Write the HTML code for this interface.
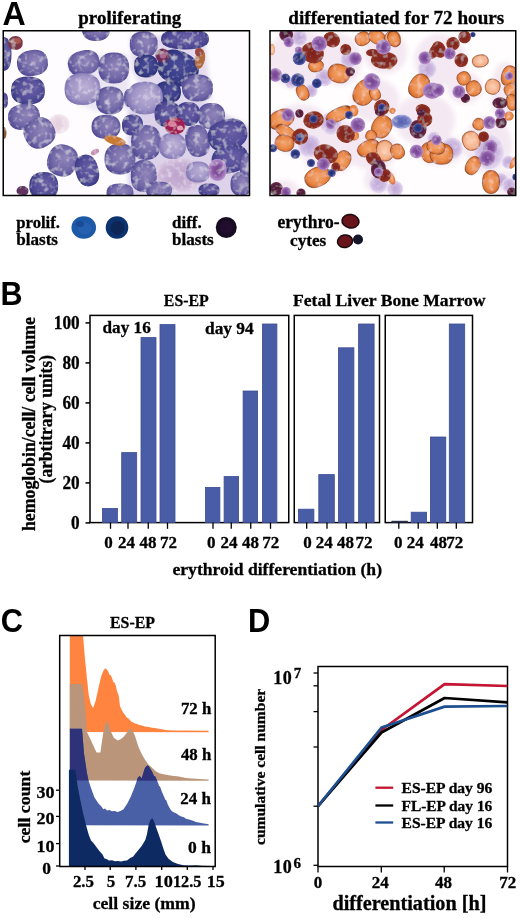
<!DOCTYPE html>
<html><head><meta charset="utf-8"><title>Figure</title>
<style>
html,body{margin:0;padding:0;background:#fff;}
body{width:520px;height:918px;overflow:hidden;font-family:"Liberation Serif",serif;}
svg{display:block;}
text{fill:#000;}
</style></head><body>
<svg width="520" height="918" viewBox="0 0 520 918">
<rect width="520" height="918" fill="#fff"/>
<defs><filter id="tb" x="0" y="0" width="520" height="918" filterUnits="userSpaceOnUse"><feGaussianBlur stdDeviation="0.35"/></filter></defs>

<g filter="url(#tb)">
<text transform="translate(2.6,25.1) scale(0.96,1)" font-size="33.5" style="font-family:'Liberation Sans',sans-serif;font-weight:bold">A</text>
<text transform="translate(0.6,305.2) scale(0.91,1)" font-size="33.5" style="font-family:'Liberation Sans',sans-serif;font-weight:bold">B</text>
<text transform="translate(0.8,632.0) scale(0.92,1)" font-size="33.5" style="font-family:'Liberation Sans',sans-serif;font-weight:bold">C</text>
<text transform="translate(247.9,632.4) scale(0.92,1)" font-size="33.5" style="font-family:'Liberation Sans',sans-serif;font-weight:bold">D</text>
<text x="78.3" y="24.2" font-size="19" text-anchor="start" textLength="103" lengthAdjust="spacingAndGlyphs" style="font-family:'Liberation Serif',serif;stroke:#000;stroke-width:0.3;font-weight:bold" >proliferating</text>
<text x="288.3" y="24.2" font-size="19" text-anchor="start" textLength="216" lengthAdjust="spacingAndGlyphs" style="font-family:'Liberation Serif',serif;stroke:#000;stroke-width:0.3;font-weight:bold" >differentiated for 72 hours</text>
</g>
<defs><filter id="bl" x="-5%" y="-5%" width="110%" height="110%"><feGaussianBlur stdDeviation="0.65"/></filter>
<filter id="tex" x="0" y="0" width="520" height="200" filterUnits="userSpaceOnUse"><feTurbulence type="fractalNoise" baseFrequency="0.18" numOctaves="2" seed="4" result="n"/><feColorMatrix in="n" type="matrix" values="0 0 0 0 1  0 0 0 0 1  0 0 0 0 1  1.3 0 0 0 -0.66" result="w"/><feComposite in="w" in2="SourceAlpha" operator="in" result="wm"/><feMerge result="m"><feMergeNode in="SourceGraphic"/><feMergeNode in="wm"/></feMerge><feGaussianBlur in="m" stdDeviation="0.6"/></filter>
<filter id="tex2" x="0" y="0" width="520" height="200" filterUnits="userSpaceOnUse"><feTurbulence type="fractalNoise" baseFrequency="0.18" numOctaves="2" seed="9" result="n"/><feColorMatrix in="n" type="matrix" values="0 0 0 0 1  0 0 0 0 1  0 0 0 0 1  0.9 0 0 0 -0.47" result="w"/><feComposite in="w" in2="SourceAlpha" operator="in" result="wm"/><feMerge result="m"><feMergeNode in="SourceGraphic"/><feMergeNode in="wm"/></feMerge><feGaussianBlur in="m" stdDeviation="0.6"/></filter>
<filter id="bl2" x="-20%" y="-20%" width="140%" height="140%"><feGaussianBlur stdDeviation="2.2"/></filter>
<radialGradient id="gP" cx="0.5" cy="0.5" r="0.62" fx="0.62" fy="0.4"><stop offset="0" stop-color="#9286ba"/><stop offset="0.6" stop-color="#7268a8"/><stop offset="0.88" stop-color="#504894"/><stop offset="1" stop-color="#34307c"/></radialGradient>
<radialGradient id="gPl" cx="0.5" cy="0.5" r="0.62" fx="0.6" fy="0.42"><stop offset="0" stop-color="#bcb0d6"/><stop offset="0.6" stop-color="#a094c6"/><stop offset="0.88" stop-color="#7a70b0"/><stop offset="1" stop-color="#565098"/></radialGradient>
<radialGradient id="gPd" cx="0.5" cy="0.5" r="0.62" fx="0.62" fy="0.4"><stop offset="0" stop-color="#6a60a6"/><stop offset="0.6" stop-color="#524c98"/><stop offset="0.88" stop-color="#3a3884"/><stop offset="1" stop-color="#282a70"/></radialGradient>
<radialGradient id="gN" cx="0.5" cy="0.5" r="0.62" fx="0.6" fy="0.4"><stop offset="0" stop-color="#4c4e9a"/><stop offset="0.6" stop-color="#383c88"/><stop offset="1" stop-color="#22266a"/></radialGradient>
<radialGradient id="gPk" cx="0.5" cy="0.5" r="0.55"><stop offset="0" stop-color="#bda2cc"/><stop offset="0.6" stop-color="#c8b0d4"/><stop offset="1" stop-color="#e2d4ea"/></radialGradient>
<radialGradient id="gPk2" cx="0.5" cy="0.5" r="0.55"><stop offset="0" stop-color="#e4cede"/><stop offset="0.6" stop-color="#ead8e6"/><stop offset="1" stop-color="#f8f0f6"/></radialGradient>
<radialGradient id="gO" cx="0.5" cy="0.5" r="0.56"><stop offset="0" stop-color="#f2a672"/><stop offset="0.6" stop-color="#ea8a48"/><stop offset="0.85" stop-color="#d87232"/><stop offset="1" stop-color="#8a3c18"/></radialGradient>
<radialGradient id="gOl" cx="0.5" cy="0.5" r="0.56"><stop offset="0" stop-color="#fad0b4"/><stop offset="0.7" stop-color="#f4b088"/><stop offset="1" stop-color="#c87444"/></radialGradient>
<radialGradient id="gD" cx="0.5" cy="0.5" r="0.56"><stop offset="0" stop-color="#7a221e"/><stop offset="0.6" stop-color="#8a2a20"/><stop offset="0.85" stop-color="#8e3420"/><stop offset="1" stop-color="#b05a2c"/></radialGradient>
<radialGradient id="gM" cx="0.5" cy="0.5" r="0.56"><stop offset="0" stop-color="#4a1634"/><stop offset="0.7" stop-color="#5c2040"/><stop offset="1" stop-color="#7a3a50"/></radialGradient>
<radialGradient id="gV" cx="0.5" cy="0.5" r="0.58"><stop offset="0" stop-color="#74408e"/><stop offset="0.5" stop-color="#8a5aa6"/><stop offset="0.8" stop-color="#b088c4"/><stop offset="1" stop-color="#e2d2ea"/></radialGradient>
<radialGradient id="gLv" cx="0.5" cy="0.5" r="0.56"><stop offset="0" stop-color="#bfa6d6"/><stop offset="0.55" stop-color="#cdb8e0"/><stop offset="0.8" stop-color="#e0d2ec"/><stop offset="1" stop-color="#f5f0f9"/></radialGradient>
<radialGradient id="gBv" cx="0.5" cy="0.5" r="0.56"><stop offset="0" stop-color="#5560b0"/><stop offset="0.6" stop-color="#6f78c0"/><stop offset="0.85" stop-color="#a0a4d8"/><stop offset="1" stop-color="#e0def2"/></radialGradient>
<radialGradient id="gB" cx="0.5" cy="0.5" r="0.56"><stop offset="0" stop-color="#222c6c"/><stop offset="0.6" stop-color="#303c88"/><stop offset="0.85" stop-color="#5c62a8"/><stop offset="1" stop-color="#a8a4d0"/></radialGradient>
<clipPath id="cA1"><rect x="3.25" y="30.75" width="246.25" height="164.75"/></clipPath>
<clipPath id="cA2"><rect x="270" y="30.75" width="245.75" height="164.75"/></clipPath></defs>
<g clip-path="url(#cA1)">
<rect x="3" y="30" width="247" height="166" fill="#fefcfe"/>
<g filter="url(#bl2)">
<path d="M128 110 L150 84 L200 100 L228 116 L250 126 L250 196 L128 196 Z" fill="#dcd2ea"/>
<path d="M130 36 L205 34 L208 70 L212 100 L150 104 L132 70 Z" fill="#e4dcee"/>
<path d="M70 56 L128 54 L130 108 L96 112 L70 100 Z" fill="#ece6f3"/>
</g>
<g filter="url(#tex)">
<ellipse cx="58.75" cy="124" rx="11" ry="10" fill="url(#gPk2)" />
<ellipse cx="180.5" cy="175" rx="27" ry="17" fill="url(#gPk)" />
<ellipse cx="100" cy="121" rx="7" ry="5" fill="url(#gPk2)" />
<path d="M11.5 54.0 L11.3 58.7 L10.8 62.4 L10.0 65.4 L8.9 67.8 L7.4 69.6 L5.7 70.6 L3.5 71.0 L1.3 70.6 L-0.4 69.6 L-1.9 67.8 L-3.0 65.4 L-3.8 62.4 L-4.3 58.7 L-4.5 54.0 L-4.3 49.3 L-3.8 45.6 L-3.0 42.6 L-1.9 40.2 L-0.4 38.4 L1.3 37.4 L3.5 37.0 L5.7 37.4 L7.4 38.4 L8.9 40.2 L10.0 42.6 L10.8 45.6 L11.3 49.3Z" fill="url(#gPd)" />
<path d="M47.8 60.3 L48.1 63.9 L47.6 66.8 L46.4 69.4 L44.5 71.6 L42.1 73.4 L39.0 74.8 L34.8 75.8 L30.5 76.3 L27.1 76.0 L24.1 75.2 L21.6 73.7 L19.6 71.8 L18.2 69.2 L17.2 65.7 L16.9 62.1 L17.4 59.2 L18.6 56.6 L20.5 54.4 L22.9 52.6 L26.0 51.2 L30.2 50.2 L34.5 49.7 L37.9 50.0 L40.9 50.8 L43.4 52.3 L45.4 54.2 L46.8 56.8Z" fill="url(#gP)" />
<path d="M45.0 90.5 L44.6 94.4 L43.6 97.4 L41.8 99.9 L39.4 101.9 L36.4 103.3 L32.7 104.2 L28.0 104.5 L23.3 104.2 L19.6 103.3 L16.6 101.9 L14.2 99.9 L12.4 97.4 L11.4 94.4 L11.0 90.5 L11.4 86.6 L12.4 83.6 L14.2 81.1 L16.6 79.1 L19.6 77.7 L23.3 76.8 L28.0 76.5 L32.7 76.8 L36.4 77.7 L39.4 79.1 L41.8 81.1 L43.6 83.6 L44.6 86.6Z" fill="url(#gPd)" />
<path d="M8.0 100.5 L7.9 102.7 L7.6 104.4 L7.1 105.9 L6.5 107.0 L5.7 107.8 L4.8 108.3 L3.5 108.5 L2.2 108.3 L1.3 107.8 L0.5 107.0 L-0.1 105.9 L-0.6 104.4 L-0.9 102.7 L-1.0 100.5 L-0.9 98.3 L-0.6 96.6 L-0.1 95.1 L0.5 94.0 L1.3 93.2 L2.2 92.7 L3.5 92.5 L4.8 92.7 L5.7 93.2 L6.5 94.0 L7.1 95.1 L7.6 96.6 L7.9 98.3Z" fill="url(#gPd)" />
<path d="M39.8 114.0 L40.0 117.6 L39.5 120.5 L38.3 123.1 L36.4 125.3 L33.8 127.1 L30.6 128.5 L26.3 129.6 L21.8 130.1 L18.3 129.8 L15.3 129.0 L12.7 127.6 L10.7 125.6 L9.2 123.0 L8.2 119.5 L8.0 115.9 L8.5 113.0 L9.7 110.4 L11.6 108.2 L14.2 106.4 L17.4 105.0 L21.7 103.9 L26.2 103.4 L29.7 103.7 L32.7 104.5 L35.3 105.9 L37.3 107.9 L38.8 110.5Z" fill="url(#gP)" />
<path d="M52.9 125.2 L54.7 129.0 L55.5 132.3 L55.4 135.4 L54.6 138.4 L53.0 141.1 L50.6 143.6 L47.0 146.0 L43.1 147.9 L39.8 148.7 L36.6 148.7 L33.6 148.0 L30.9 146.5 L28.5 144.2 L26.1 140.8 L24.3 137.0 L23.5 133.7 L23.6 130.6 L24.4 127.6 L26.0 124.9 L28.4 122.4 L32.0 120.0 L35.9 118.1 L39.2 117.3 L42.4 117.3 L45.4 118.0 L48.1 119.5 L50.5 121.8Z" fill="url(#gP)" />
<path d="M99.2 58.9 L99.8 62.3 L99.5 65.1 L98.4 67.7 L96.7 70.0 L94.3 72.0 L91.2 73.7 L87.0 75.1 L82.6 76.0 L79.1 76.1 L76.0 75.6 L73.4 74.4 L71.2 72.7 L69.5 70.4 L68.3 67.1 L67.7 63.7 L68.0 60.9 L69.1 58.3 L70.8 56.0 L73.2 54.0 L76.3 52.3 L80.5 50.9 L84.9 50.0 L88.4 49.9 L91.5 50.4 L94.1 51.6 L96.3 53.3 L98.0 55.6Z" fill="url(#gP)" />
<path d="M129.2 68.0 L128.9 72.3 L127.9 75.6 L126.3 78.4 L124.1 80.6 L121.4 82.2 L118.1 83.2 L113.8 83.5 L109.4 83.2 L106.1 82.2 L103.4 80.6 L101.2 78.4 L99.6 75.6 L98.6 72.3 L98.2 68.0 L98.6 63.7 L99.6 60.4 L101.2 57.6 L103.4 55.4 L106.1 53.8 L109.4 52.8 L113.7 52.5 L118.1 52.8 L121.4 53.8 L124.1 55.4 L126.3 57.6 L127.9 60.4 L128.9 63.7Z" fill="url(#gP)" />
<path d="M100.5 89.0 L100.1 93.5 L99.0 96.9 L97.1 99.7 L94.5 102.0 L91.3 103.6 L87.5 104.7 L82.5 105.0 L77.5 104.7 L73.7 103.6 L70.5 102.0 L67.9 99.7 L66.0 96.9 L64.9 93.5 L64.5 89.0 L64.9 84.5 L66.0 81.1 L67.9 78.3 L70.5 76.0 L73.7 74.4 L77.5 73.3 L82.5 73.0 L87.5 73.3 L91.3 74.4 L94.5 76.0 L97.1 78.3 L99.0 81.1 L100.1 84.5Z" fill="url(#gPl)" />
<path d="M124.0 100.5 L123.7 104.4 L122.8 107.4 L121.4 109.9 L119.4 111.9 L116.9 113.3 L113.9 114.2 L110.0 114.5 L106.1 114.2 L103.1 113.3 L100.6 111.9 L98.6 109.9 L97.2 107.4 L96.3 104.4 L96.0 100.5 L96.3 96.6 L97.2 93.6 L98.6 91.1 L100.6 89.1 L103.1 87.7 L106.1 86.8 L110.0 86.5 L113.9 86.8 L116.9 87.7 L119.4 89.1 L121.4 91.1 L122.8 93.6 L123.7 96.6Z" fill="url(#gP)" />
<path d="M110.0 29.0 L109.7 32.3 L108.8 34.9 L107.4 37.0 L105.4 38.7 L102.9 40.0 L99.9 40.7 L96.0 41.0 L92.1 40.7 L89.1 40.0 L86.6 38.7 L84.6 37.0 L83.2 34.9 L82.3 32.3 L82.0 29.0 L82.3 25.7 L83.2 23.1 L84.6 21.0 L86.6 19.3 L89.1 18.0 L92.1 17.3 L96.0 17.0 L99.9 17.3 L102.9 18.0 L105.4 19.3 L107.4 21.0 L108.8 23.1 L109.7 25.7Z" fill="url(#gP)" />
<path d="M76.6 165.6 L74.8 169.7 L72.7 172.6 L70.3 174.7 L67.5 176.1 L64.4 176.8 L61.1 176.6 L57.0 175.5 L53.2 173.8 L50.6 171.7 L48.6 169.3 L47.4 166.4 L46.9 163.2 L47.2 159.7 L48.4 155.4 L50.2 151.3 L52.3 148.4 L54.7 146.3 L57.5 144.9 L60.6 144.2 L63.9 144.4 L68.0 145.5 L71.8 147.2 L74.4 149.3 L76.4 151.7 L77.6 154.6 L78.1 157.8 L77.8 161.3Z" fill="url(#gP)" />
<path d="M98.1 167.5 L99.0 171.9 L99.2 175.4 L98.8 178.4 L97.8 181.0 L96.2 183.2 L94.1 184.8 L91.1 186.0 L88.0 186.5 L85.3 186.1 L82.9 185.0 L80.8 183.3 L78.9 180.8 L77.3 177.7 L75.9 173.5 L75.0 169.1 L74.8 165.6 L75.2 162.6 L76.2 160.0 L77.8 157.8 L79.9 156.2 L82.9 155.0 L86.0 154.5 L88.7 154.9 L91.1 156.0 L93.2 157.7 L95.1 160.2 L96.7 163.3Z" fill="url(#gPd)" />
<path d="M58.2 186.0 L57.9 189.9 L57.0 192.9 L55.5 195.4 L53.4 197.4 L50.9 198.8 L47.8 199.7 L43.8 200.0 L39.7 199.7 L36.6 198.8 L34.1 197.4 L32.0 195.4 L30.5 192.9 L29.6 189.9 L29.2 186.0 L29.6 182.1 L30.5 179.1 L32.0 176.6 L34.1 174.6 L36.6 173.2 L39.7 172.3 L43.7 172.0 L47.8 172.3 L50.9 173.2 L53.4 174.6 L55.5 176.6 L57.0 179.1 L57.9 182.1Z" fill="url(#gPd)" />
<path d="M120.5 126.8 L120.2 130.1 L119.3 132.6 L117.8 134.8 L115.7 136.5 L113.1 137.7 L110.0 138.5 L106.0 138.8 L102.0 138.5 L98.9 137.7 L96.3 136.5 L94.2 134.8 L92.7 132.6 L91.8 130.1 L91.5 126.8 L91.8 123.4 L92.7 120.9 L94.2 118.7 L96.3 117.0 L98.9 115.8 L102.0 115.0 L106.0 114.8 L110.0 115.0 L113.1 115.8 L115.7 117.0 L117.8 118.7 L119.3 120.9 L120.2 123.4Z" fill="url(#gP)" />
<path d="M135.5 159.0 L135.2 163.3 L134.2 166.6 L132.6 169.4 L130.4 171.6 L127.6 173.2 L124.3 174.2 L120.0 174.5 L115.7 174.2 L112.4 173.2 L109.6 171.6 L107.4 169.4 L105.8 166.6 L104.8 163.3 L104.5 159.0 L104.8 154.7 L105.8 151.4 L107.4 148.6 L109.6 146.4 L112.4 144.8 L115.7 143.8 L120.0 143.5 L124.3 143.8 L127.6 144.8 L130.4 146.4 L132.6 148.6 L134.2 151.4 L135.2 154.7Z" fill="url(#gP)" />
<path d="M134.0 98.0 L133.9 100.5 L133.6 102.4 L133.1 104.0 L132.3 105.3 L131.5 106.2 L130.4 106.8 L129.0 107.0 L127.6 106.8 L126.5 106.2 L125.7 105.3 L124.9 104.0 L124.4 102.4 L124.1 100.5 L124.0 98.0 L124.1 95.5 L124.4 93.6 L124.9 92.0 L125.7 90.7 L126.5 89.8 L127.6 89.2 L129.0 89.0 L130.4 89.2 L131.5 89.8 L132.3 90.7 L133.1 92.0 L133.6 93.6 L133.9 95.5Z" fill="url(#gP)" />
<path d="M133.5 193.0 L133.2 195.6 L132.4 197.7 L130.9 199.4 L129.0 200.7 L126.6 201.7 L123.8 202.3 L120.0 202.5 L116.2 202.3 L113.4 201.7 L111.0 200.7 L109.1 199.4 L107.6 197.7 L106.8 195.6 L106.5 193.0 L106.8 190.4 L107.6 188.3 L109.1 186.6 L111.0 185.3 L113.4 184.3 L116.2 183.7 L120.0 183.5 L123.8 183.7 L126.6 184.3 L129.0 185.3 L130.9 186.6 L132.4 188.3 L133.2 190.4Z" fill="url(#gP)" />
<path d="M157.8 44.2 L157.5 47.9 L156.6 50.6 L155.1 52.9 L153.1 54.8 L150.6 56.1 L147.6 57.0 L143.8 57.2 L139.9 57.0 L136.9 56.1 L134.4 54.8 L132.4 52.9 L130.9 50.6 L130.0 47.9 L129.8 44.3 L130.0 40.6 L130.9 37.9 L132.4 35.6 L134.4 33.7 L136.9 32.4 L139.9 31.5 L143.7 31.2 L147.6 31.5 L150.6 32.4 L153.1 33.7 L155.1 35.6 L156.6 37.9 L157.5 40.6Z" fill="url(#gP)" />
<path d="M209.0 39.0 L208.5 41.9 L207.0 44.2 L204.5 46.0 L201.1 47.5 L196.8 48.6 L191.7 49.3 L185.0 49.5 L178.3 49.3 L173.2 48.6 L168.9 47.5 L165.5 46.0 L163.0 44.2 L161.5 41.9 L161.0 39.0 L161.5 36.1 L163.0 33.8 L165.5 32.0 L168.9 30.5 L173.2 29.4 L178.3 28.7 L185.0 28.5 L191.7 28.7 L196.8 29.4 L201.1 30.5 L204.5 32.0 L207.0 33.8 L208.5 36.1Z" fill="url(#gPd)" />
<path d="M158.0 66.0 L157.7 69.2 L157.0 71.7 L155.7 73.7 L154.0 75.3 L151.9 76.5 L149.3 77.3 L146.0 77.5 L142.7 77.3 L140.1 76.5 L138.0 75.3 L136.3 73.7 L135.0 71.7 L134.3 69.2 L134.0 66.0 L134.3 62.8 L135.0 60.3 L136.3 58.3 L138.0 56.7 L140.1 55.5 L142.7 54.7 L146.0 54.5 L149.3 54.7 L151.9 55.5 L154.0 56.7 L155.7 58.3 L157.0 60.3 L157.7 62.8Z" fill="url(#gN)" />
<path d="M197.0 76.9 L194.6 81.0 L191.9 83.7 L188.6 85.5 L184.9 86.4 L180.8 86.5 L176.3 85.5 L170.8 83.4 L165.7 80.6 L162.1 77.7 L159.4 74.6 L157.8 71.1 L157.1 67.4 L157.4 63.6 L159.0 59.1 L161.4 55.0 L164.1 52.3 L167.4 50.5 L171.1 49.6 L175.2 49.5 L179.7 50.5 L185.2 52.6 L190.3 55.4 L193.9 58.3 L196.6 61.4 L198.2 64.9 L198.9 68.6 L198.6 72.4Z" fill="url(#gN)" />
<path d="M181.0 92.0 L180.7 95.1 L179.9 97.4 L178.5 99.4 L176.7 100.9 L174.4 102.1 L171.6 102.8 L168.0 103.0 L164.4 102.8 L161.6 102.1 L159.3 100.9 L157.5 99.4 L156.1 97.4 L155.3 95.1 L155.0 92.0 L155.3 88.9 L156.1 86.6 L157.5 84.6 L159.3 83.1 L161.6 81.9 L164.4 81.2 L168.0 81.0 L171.6 81.2 L174.4 81.9 L176.7 83.1 L178.5 84.6 L179.9 86.6 L180.7 88.9Z" fill="url(#gN)" />
<path d="M213.0 88.0 L212.7 91.8 L211.7 94.6 L210.1 97.0 L207.9 98.9 L205.1 100.4 L201.8 101.2 L197.5 101.5 L193.2 101.2 L189.9 100.4 L187.1 98.9 L184.9 97.0 L183.3 94.6 L182.3 91.8 L182.0 88.0 L182.3 84.2 L183.3 81.4 L184.9 79.0 L187.1 77.1 L189.9 75.6 L193.2 74.8 L197.5 74.5 L201.8 74.8 L205.1 75.6 L207.9 77.1 L210.1 79.0 L211.7 81.4 L212.7 84.2Z" fill="url(#gP)" />
<path d="M163.0 98.0 L162.6 102.6 L161.5 106.1 L159.6 109.0 L157.0 111.4 L153.8 113.1 L150.0 114.1 L145.0 114.5 L140.0 114.1 L136.2 113.1 L133.0 111.4 L130.4 109.0 L128.5 106.1 L127.4 102.6 L127.0 98.0 L127.4 93.4 L128.5 89.9 L130.4 87.0 L133.0 84.6 L136.2 82.9 L140.0 81.9 L145.0 81.5 L150.0 81.9 L153.8 82.9 L157.0 84.6 L159.6 87.0 L161.5 89.9 L162.6 93.4Z" fill="url(#gPl)" />
<path d="M180.5 114.0 L180.2 117.6 L179.4 120.4 L178.0 122.7 L176.2 124.5 L173.9 125.9 L171.1 126.7 L167.5 127.0 L163.9 126.7 L161.1 125.9 L158.8 124.5 L157.0 122.7 L155.6 120.4 L154.8 117.6 L154.5 114.0 L154.8 110.4 L155.6 107.6 L157.0 105.3 L158.8 103.5 L161.1 102.1 L163.9 101.3 L167.5 101.0 L171.1 101.3 L173.9 102.1 L176.2 103.5 L178.0 105.3 L179.4 107.6 L180.2 110.4Z" fill="url(#gPd)" />
<path d="M200.0 114.0 L199.7 117.3 L199.0 119.9 L197.7 122.0 L196.0 123.7 L193.9 125.0 L191.3 125.7 L188.0 126.0 L184.7 125.7 L182.1 125.0 L180.0 123.7 L178.3 122.0 L177.0 119.9 L176.3 117.3 L176.0 114.0 L176.3 110.7 L177.0 108.1 L178.3 106.0 L180.0 104.3 L182.1 103.0 L184.7 102.3 L188.0 102.0 L191.3 102.3 L193.9 103.0 L196.0 104.3 L197.7 106.0 L199.0 108.1 L199.7 110.7Z" fill="url(#gPd)" />
<path d="M225.0 116.0 L224.7 119.6 L223.9 122.4 L222.4 124.7 L220.5 126.5 L218.1 127.9 L215.3 128.7 L211.5 129.0 L207.7 128.7 L204.9 127.9 L202.5 126.5 L200.6 124.7 L199.1 122.4 L198.3 119.6 L198.0 116.0 L198.3 112.4 L199.1 109.6 L200.6 107.3 L202.5 105.5 L204.9 104.1 L207.7 103.3 L211.5 103.0 L215.3 103.3 L218.1 104.1 L220.5 105.5 L222.4 107.3 L223.9 109.6 L224.7 112.4Z" fill="url(#gP)" />
<path d="M143.0 125.0 L142.8 127.9 L142.1 130.2 L141.0 132.0 L139.5 133.5 L137.7 134.6 L135.4 135.3 L132.5 135.5 L129.6 135.3 L127.3 134.6 L125.5 133.5 L124.0 132.0 L122.9 130.2 L122.2 127.9 L122.0 125.0 L122.2 122.1 L122.9 119.8 L124.0 118.0 L125.5 116.5 L127.3 115.4 L129.6 114.7 L132.5 114.5 L135.4 114.7 L137.7 115.4 L139.5 116.5 L141.0 118.0 L142.1 119.8 L142.8 122.1Z" fill="url(#gPd)" />
<path d="M161.0 142.5 L160.7 147.4 L159.7 151.1 L158.2 154.2 L156.0 156.7 L153.4 158.5 L150.2 159.6 L146.0 160.0 L141.8 159.6 L138.6 158.5 L136.0 156.7 L133.8 154.2 L132.3 151.1 L131.3 147.4 L131.0 142.5 L131.3 137.6 L132.3 133.9 L133.8 130.8 L136.0 128.3 L138.6 126.5 L141.8 125.4 L146.0 125.0 L150.2 125.4 L153.4 126.5 L156.0 128.3 L158.2 130.8 L159.7 133.9 L160.7 137.6Z" fill="url(#gP)" />
<path d="M186.0 146.0 L185.7 149.6 L184.9 152.4 L183.4 154.7 L181.5 156.5 L179.1 157.9 L176.3 158.7 L172.5 159.0 L168.7 158.7 L165.9 157.9 L163.5 156.5 L161.6 154.7 L160.1 152.4 L159.3 149.6 L159.0 146.0 L159.3 142.4 L160.1 139.6 L161.6 137.3 L163.5 135.5 L165.9 134.1 L168.7 133.3 L172.5 133.0 L176.3 133.3 L179.1 134.1 L181.5 135.5 L183.4 137.3 L184.9 139.6 L185.7 142.4Z" fill="url(#gPl)" />
<path d="M209.3 138.9 L209.8 143.3 L209.7 146.8 L208.9 149.9 L207.7 152.4 L205.8 154.4 L203.5 155.8 L200.3 156.8 L196.9 157.0 L194.2 156.4 L191.8 155.2 L189.8 153.2 L188.1 150.6 L186.7 147.4 L185.7 143.1 L185.2 138.7 L185.3 135.2 L186.1 132.1 L187.3 129.6 L189.2 127.6 L191.5 126.2 L194.7 125.2 L198.1 125.0 L200.8 125.6 L203.2 126.8 L205.2 128.8 L206.9 131.4 L208.3 134.6Z" fill="url(#gP)" />
<path d="M246.5 128.8 L247.4 133.1 L247.3 136.6 L246.1 139.8 L244.1 142.8 L241.2 145.5 L237.5 147.7 L232.3 149.7 L226.9 151.1 L222.5 151.5 L218.7 151.1 L215.3 149.9 L212.4 147.9 L210.2 145.2 L208.5 141.2 L207.6 136.9 L207.7 133.4 L208.9 130.2 L210.9 127.2 L213.8 124.5 L217.5 122.3 L222.7 120.3 L228.1 118.9 L232.5 118.5 L236.3 118.9 L239.7 120.1 L242.6 122.1 L244.8 124.8Z" fill="url(#gPd)" />
<path d="M247.9 154.2 L248.5 158.1 L248.1 161.3 L246.9 164.2 L244.9 166.8 L242.1 169.0 L238.5 170.9 L233.6 172.5 L228.6 173.6 L224.5 173.7 L221.0 173.2 L217.9 171.9 L215.4 170.0 L213.5 167.4 L212.1 163.8 L211.5 159.9 L211.9 156.7 L213.1 153.8 L215.1 151.2 L217.9 149.0 L221.5 147.1 L226.4 145.5 L231.4 144.4 L235.5 144.3 L239.0 144.8 L242.1 146.1 L244.6 148.0 L246.5 150.6Z" fill="url(#gPd)" />
<path d="M252.5 166.0 L252.4 169.6 L251.9 172.4 L251.3 174.7 L250.3 176.5 L249.2 177.9 L247.8 178.7 L246.0 179.0 L244.2 178.7 L242.8 177.9 L241.7 176.5 L240.7 174.7 L240.1 172.4 L239.6 169.6 L239.5 166.0 L239.6 162.4 L240.1 159.6 L240.7 157.3 L241.7 155.5 L242.8 154.1 L244.2 153.3 L246.0 153.0 L247.8 153.3 L249.2 154.1 L250.3 155.5 L251.3 157.3 L251.9 159.6 L252.4 162.4Z" fill="url(#gP)" />
<path d="M251.5 184.0 L251.3 187.3 L250.6 189.9 L249.5 192.0 L248.0 193.7 L246.2 195.0 L243.9 195.7 L241.0 196.0 L238.1 195.7 L235.8 195.0 L234.0 193.7 L232.5 192.0 L231.4 189.9 L230.7 187.3 L230.5 184.0 L230.7 180.7 L231.4 178.1 L232.5 176.0 L234.0 174.3 L235.8 173.0 L238.1 172.3 L241.0 172.0 L243.9 172.3 L246.2 173.0 L248.0 174.3 L249.5 176.0 L250.6 178.1 L251.3 180.7Z" fill="url(#gP)" />
<path d="M156.8 176.0 L156.5 180.5 L155.6 183.9 L154.3 186.7 L152.4 189.0 L150.1 190.6 L147.4 191.7 L143.8 192.0 L140.1 191.7 L137.4 190.6 L135.1 189.0 L133.2 186.7 L131.9 183.9 L131.0 180.5 L130.8 176.0 L131.0 171.5 L131.9 168.1 L133.2 165.3 L135.1 163.0 L137.4 161.4 L140.1 160.3 L143.7 160.0 L147.4 160.3 L150.1 161.4 L152.4 163.0 L154.3 165.3 L155.6 168.1 L156.5 171.5Z" fill="url(#gP)" />
<path d="M210.0 172.0 L209.7 174.9 L209.0 177.2 L207.7 179.0 L206.0 180.5 L203.9 181.6 L201.3 182.3 L198.0 182.5 L194.7 182.3 L192.1 181.6 L190.0 180.5 L188.3 179.0 L187.0 177.2 L186.3 174.9 L186.0 172.0 L186.3 169.1 L187.0 166.8 L188.3 165.0 L190.0 163.5 L192.1 162.4 L194.7 161.7 L198.0 161.5 L201.3 161.7 L203.9 162.4 L206.0 163.5 L207.7 165.0 L209.0 166.8 L209.7 169.1Z" fill="url(#gPl)" />
<path d="M172.0 190.0 L171.7 192.4 L170.9 194.2 L169.5 195.7 L167.7 196.9 L165.4 197.8 L162.6 198.3 L159.0 198.5 L155.4 198.3 L152.6 197.8 L150.3 196.9 L148.5 195.7 L147.1 194.2 L146.3 192.4 L146.0 190.0 L146.3 187.6 L147.1 185.8 L148.5 184.3 L150.3 183.1 L152.6 182.2 L155.4 181.7 L159.0 181.5 L162.6 181.7 L165.4 182.2 L167.7 183.1 L169.5 184.3 L170.9 185.8 L171.7 187.6Z" fill="url(#gP)" />
<path d="M219.5 190.0 L219.3 191.8 L218.6 193.2 L217.5 194.3 L216.0 195.3 L214.2 195.9 L211.9 196.4 L209.0 196.5 L206.1 196.4 L203.8 195.9 L202.0 195.3 L200.5 194.3 L199.4 193.2 L198.7 191.8 L198.5 190.0 L198.7 188.2 L199.4 186.8 L200.5 185.7 L202.0 184.7 L203.8 184.1 L206.1 183.6 L209.0 183.5 L211.9 183.6 L214.2 184.1 L216.0 184.7 L217.5 185.7 L218.6 186.8 L219.3 188.2Z" fill="url(#gPd)" />
<path d="M226.5 170.0 L226.3 173.1 L225.7 175.4 L224.8 177.4 L223.5 178.9 L221.9 180.1 L220.0 180.8 L217.5 181.0 L215.0 180.8 L213.1 180.1 L211.5 178.9 L210.2 177.4 L209.3 175.4 L208.7 173.1 L208.5 170.0 L208.7 166.9 L209.3 164.6 L210.2 162.6 L211.5 161.1 L213.1 159.9 L215.0 159.2 L217.5 159.0 L220.0 159.2 L221.9 159.9 L223.5 161.1 L224.8 162.6 L225.7 164.6 L226.3 166.9Z" fill="url(#gV)" />
<ellipse cx="15.5" cy="43" rx="7.5" ry="7" fill="#7c3446" />
<ellipse cx="17" cy="41" rx="4" ry="3" fill="#a8584e" />
<ellipse cx="162.5" cy="55.5" rx="7" ry="7" fill="#6e2a58" />
<ellipse cx="163" cy="55" rx="3.5" ry="3.5" fill="#a86a90" />
<ellipse cx="22.5" cy="191" rx="6" ry="5" fill="#5e3060" />
<ellipse cx="175" cy="126" rx="10.5" ry="8.5" fill="#a01e52" />
<ellipse cx="172" cy="124" rx="4" ry="3" fill="#d880a0" />
<ellipse cx="180" cy="128" rx="3" ry="2.5" fill="#e0a0b8" />
<ellipse cx="200" cy="59" rx="5" ry="10" fill="#b06a3a" transform="rotate(10 200 59)" />
<ellipse cx="199" cy="52" rx="4" ry="4" fill="#9a4a40" />
<ellipse cx="115" cy="140.5" rx="11" ry="4.5" fill="#c87a30" transform="rotate(15 115 140.5)" />
<ellipse cx="95" cy="152" rx="4.5" ry="2.5" fill="#c890b0" transform="rotate(-30 95 152)" />
<ellipse cx="4" cy="133" rx="2.5" ry="6" fill="#8a5a3a" />
</g></g>
<g clip-path="url(#cA2)">
<rect x="269" y="30" width="248" height="166" fill="#fffdfd"/>
<g filter="url(#bl2)">
<ellipse cx="300" cy="60" rx="34" ry="30" fill="#f4e9f3" />
<ellipse cx="340" cy="60" rx="22" ry="26" fill="#f4e9f3" />
<ellipse cx="300" cy="130" rx="32" ry="26" fill="#f4e9f3" />
<ellipse cx="330" cy="145" rx="30" ry="30" fill="#f4e9f3" />
<ellipse cx="375" cy="100" rx="24" ry="22" fill="#f4e9f3" />
<ellipse cx="385" cy="52" rx="22" ry="22" fill="#f4e9f3" />
<ellipse cx="372" cy="150" rx="26" ry="20" fill="#f4e9f3" />
<ellipse cx="380" cy="180" rx="16" ry="14" fill="#f4e9f3" />
<ellipse cx="440" cy="60" rx="26" ry="26" fill="#f4e9f3" />
<ellipse cx="425" cy="120" rx="30" ry="26" fill="#f4e9f3" />
<ellipse cx="465" cy="88" rx="18" ry="16" fill="#f4e9f3" />
<ellipse cx="488" cy="145" rx="24" ry="28" fill="#f4e9f3" />
<ellipse cx="505" cy="100" rx="14" ry="18" fill="#f4e9f3" />
<ellipse cx="440" cy="150" rx="24" ry="16" fill="#f4e9f3" />
<ellipse cx="505" cy="182" rx="12" ry="12" fill="#f4e9f3" />
<ellipse cx="505" cy="80" rx="12" ry="18" fill="#f4e9f3" />
<ellipse cx="284" cy="188" rx="14" ry="8" fill="#f4e9f3" />
</g>
<g filter="url(#tex2)">
<ellipse cx="349" cy="59.4" rx="8.775" ry="8.775" fill="url(#gLv)" />
<ellipse cx="324" cy="77.6" rx="8.91" ry="8.91" fill="url(#gLv)" />
<ellipse cx="311" cy="90.8" rx="6.75" ry="6.75" fill="url(#gLv)" />
<ellipse cx="291" cy="82.6" rx="6.075" ry="6.075" fill="url(#gLv)" />
<ellipse cx="299.4" cy="38" rx="8.100000000000001" ry="8.100000000000001" fill="url(#gLv)" />
<ellipse cx="330.8" cy="123.4" rx="10.8" ry="11.475000000000001" fill="url(#gLv)" />
<ellipse cx="309.3" cy="145.7" rx="11.475000000000001" ry="11.475000000000001" fill="url(#gLv)" />
<ellipse cx="427.2" cy="69.3" rx="9.450000000000001" ry="9.450000000000001" fill="url(#gLv)" />
<ellipse cx="378.5" cy="183.8" rx="9.450000000000001" ry="9.450000000000001" fill="url(#gLv)" />
<ellipse cx="395" cy="188.7" rx="8.100000000000001" ry="8.100000000000001" fill="url(#gLv)" />
<ellipse cx="452" cy="148.2" rx="10.8" ry="10.8" fill="url(#gLv)" />
<ellipse cx="489" cy="152" rx="14.850000000000001" ry="17.55" fill="url(#gLv)" />
<ellipse cx="501" cy="180.5" rx="7.425000000000001" ry="7.425000000000001" fill="url(#gLv)" />
<ellipse cx="509" cy="185.4" rx="7.425000000000001" ry="7.425000000000001" fill="url(#gLv)" />
<ellipse cx="508.4" cy="162.3" rx="6.75" ry="6.75" fill="url(#gLv)" />
<ellipse cx="433.9" cy="138.3" rx="6.75" ry="6.75" fill="url(#gLv)" />
<ellipse cx="277" cy="116" rx="6.075" ry="6.075" fill="url(#gLv)" />
<ellipse cx="272" cy="49.5" rx="2.875" ry="5.75" fill="url(#gOl)" />
<path d="M323.4 64.7 L323.5 66.3 L323.2 67.6 L322.6 68.7 L321.7 69.7 L320.5 70.5 L319.0 71.2 L317.0 71.7 L315.0 71.9 L313.4 71.8 L311.9 71.4 L310.7 70.8 L309.8 69.9 L309.1 68.8 L308.6 67.3 L308.5 65.7 L308.8 64.4 L309.4 63.3 L310.3 62.3 L311.5 61.5 L313.0 60.8 L315.0 60.3 L317.0 60.1 L318.6 60.2 L320.1 60.6 L321.3 61.2 L322.2 62.1 L322.9 63.2Z" fill="url(#gO)" stroke="#7a3414" stroke-width="0.8" stroke-opacity="0.75"/>
<path d="M349.6 76.3 L348.7 78.7 L347.5 80.4 L345.9 81.7 L344.1 82.5 L341.9 83.0 L339.5 83.0 L336.6 82.4 L333.8 81.4 L331.7 80.2 L330.1 78.8 L328.9 77.1 L328.2 75.2 L328.0 73.1 L328.4 70.7 L329.3 68.3 L330.5 66.6 L332.1 65.3 L333.9 64.5 L336.1 64.0 L338.5 64.0 L341.4 64.6 L344.2 65.6 L346.3 66.8 L347.9 68.2 L349.1 69.9 L349.8 71.8 L350.0 73.9Z" fill="url(#gO)" stroke="#7a3414" stroke-width="0.8" stroke-opacity="0.75"/>
<path d="M307.9 90.1 L308.7 92.1 L309.1 93.8 L309.2 95.4 L308.9 96.8 L308.3 98.0 L307.4 99.0 L306.1 99.8 L304.6 100.3 L303.3 100.3 L302.0 100.0 L300.7 99.3 L299.6 98.2 L298.5 96.9 L297.5 94.9 L296.7 92.9 L296.3 91.2 L296.2 89.6 L296.5 88.2 L297.1 87.0 L298.0 86.0 L299.3 85.2 L300.8 84.7 L302.1 84.7 L303.4 85.0 L304.7 85.7 L305.8 86.8 L306.9 88.1Z" fill="url(#gO)" stroke="#7a3414" stroke-width="0.8" stroke-opacity="0.75"/>
<path d="M369.6 35.5 L370.2 37.2 L370.3 38.7 L370.1 40.1 L369.5 41.5 L368.6 42.7 L367.3 43.7 L365.5 44.7 L363.6 45.5 L361.9 45.8 L360.4 45.7 L359.0 45.3 L357.8 44.6 L356.7 43.5 L355.8 41.9 L355.2 40.2 L355.1 38.7 L355.3 37.3 L355.9 35.9 L356.8 34.7 L358.1 33.7 L359.9 32.7 L361.8 31.9 L363.5 31.6 L365.0 31.7 L366.4 32.1 L367.6 32.8 L368.7 33.9Z" fill="url(#gO)" stroke="#7a3414" stroke-width="0.8" stroke-opacity="0.75"/>
<path d="M384.2 41.3 L383.1 42.7 L381.9 43.7 L380.5 44.3 L379.0 44.5 L377.3 44.3 L375.5 43.8 L373.5 42.8 L371.5 41.5 L370.2 40.2 L369.2 38.8 L368.6 37.4 L368.5 35.9 L368.7 34.4 L369.4 32.7 L370.5 31.3 L371.7 30.3 L373.1 29.7 L374.6 29.5 L376.3 29.7 L378.1 30.2 L380.1 31.2 L382.1 32.5 L383.4 33.8 L384.4 35.2 L385.0 36.6 L385.1 38.1 L384.9 39.6Z" fill="url(#gO)" stroke="#7a3414" stroke-width="0.8" stroke-opacity="0.75"/>
<path d="M399.4 34.8 L400.1 36.6 L400.3 38.2 L400.1 39.8 L399.5 41.2 L398.6 42.4 L397.4 43.6 L395.6 44.6 L393.6 45.3 L392.0 45.5 L390.4 45.4 L389.0 44.9 L387.7 44.1 L386.6 42.9 L385.6 41.2 L384.9 39.4 L384.7 37.8 L384.9 36.2 L385.5 34.8 L386.4 33.6 L387.6 32.4 L389.4 31.4 L391.4 30.7 L393.0 30.5 L394.6 30.6 L396.0 31.1 L397.3 31.9 L398.4 33.1Z" fill="url(#gOl)" stroke="#7a3414" stroke-width="0.8" stroke-opacity="0.75"/>
<ellipse cx="372.7" cy="52.8" rx="6.669999999999999" ry="3.7949999999999995" fill="url(#gD)" />
<path d="M373.4 97.7 L371.4 100.7 L369.4 102.8 L367.3 104.3 L365.0 105.2 L362.7 105.5 L360.4 105.1 L357.8 104.0 L355.5 102.3 L354.0 100.5 L353.1 98.3 L352.8 95.9 L353.0 93.3 L353.8 90.5 L355.4 87.3 L357.4 84.3 L359.4 82.2 L361.5 80.7 L363.8 79.8 L366.1 79.5 L368.4 79.9 L371.0 81.0 L373.3 82.7 L374.8 84.5 L375.7 86.7 L376.0 89.1 L375.8 91.7 L375.0 94.5Z" fill="url(#gO)" stroke="#7a3414" stroke-width="0.8" stroke-opacity="0.75"/>
<path d="M379.7 91.8 L380.3 93.4 L380.6 94.8 L380.6 96.0 L380.3 97.2 L379.7 98.2 L378.9 99.0 L377.7 99.7 L376.3 100.2 L375.2 100.3 L374.0 100.1 L373.0 99.6 L372.0 98.8 L371.1 97.7 L370.3 96.2 L369.7 94.6 L369.4 93.2 L369.4 92.0 L369.7 90.8 L370.3 89.8 L371.1 89.0 L372.3 88.3 L373.7 87.8 L374.8 87.7 L376.0 87.9 L377.0 88.4 L378.0 89.2 L378.9 90.3Z" fill="url(#gO)" stroke="#7a3414" stroke-width="0.8" stroke-opacity="0.75"/>
<path d="M427.0 90.5 L425.1 93.3 L423.3 95.3 L421.4 96.7 L419.3 97.6 L417.2 97.9 L415.1 97.6 L412.8 96.6 L410.8 95.1 L409.5 93.4 L408.7 91.5 L408.5 89.3 L408.7 86.9 L409.5 84.3 L411.0 81.3 L412.9 78.5 L414.7 76.5 L416.6 75.1 L418.7 74.2 L420.8 73.9 L422.9 74.2 L425.2 75.2 L427.2 76.7 L428.5 78.4 L429.3 80.3 L429.5 82.5 L429.3 84.9 L428.5 87.5Z" fill="url(#gO)" stroke="#7a3414" stroke-width="0.8" stroke-opacity="0.75"/>
<path d="M488.2 59.6 L488.3 61.3 L488.1 62.6 L487.4 63.9 L486.4 64.9 L485.1 65.8 L483.5 66.5 L481.4 67.0 L479.2 67.2 L477.4 67.2 L475.9 66.8 L474.6 66.1 L473.6 65.2 L472.8 64.0 L472.4 62.4 L472.3 60.7 L472.5 59.4 L473.2 58.1 L474.2 57.1 L475.5 56.2 L477.1 55.5 L479.2 55.0 L481.4 54.8 L483.2 54.8 L484.7 55.2 L486.0 55.9 L487.0 56.8 L487.8 58.0Z" fill="url(#gOl)" stroke="#7a3414" stroke-width="0.8" stroke-opacity="0.75"/>
<path d="M469.8 75.6 L470.5 77.3 L470.7 78.8 L470.5 80.1 L470.1 81.4 L469.3 82.6 L468.2 83.5 L466.6 84.4 L464.9 85.1 L463.4 85.3 L462.1 85.1 L460.8 84.7 L459.6 83.9 L458.7 82.8 L457.8 81.2 L457.1 79.5 L456.9 78.0 L457.1 76.7 L457.5 75.4 L458.3 74.2 L459.4 73.3 L461.0 72.4 L462.7 71.7 L464.2 71.5 L465.5 71.7 L466.8 72.1 L468.0 72.9 L468.9 74.0Z" fill="url(#gO)" stroke="#7a3414" stroke-width="0.8" stroke-opacity="0.75"/>
<path d="M480.4 85.3 L481.1 87.2 L481.3 88.9 L481.2 90.5 L480.7 91.9 L479.9 93.2 L478.6 94.3 L476.9 95.3 L475.0 96.0 L473.4 96.2 L471.9 96.0 L470.4 95.5 L469.2 94.6 L468.0 93.3 L467.0 91.5 L466.3 89.6 L466.1 87.9 L466.2 86.3 L466.7 84.9 L467.5 83.6 L468.8 82.5 L470.5 81.5 L472.4 80.8 L474.0 80.6 L475.5 80.8 L477.0 81.3 L478.2 82.2 L479.4 83.5Z" fill="url(#gO)" stroke="#7a3414" stroke-width="0.8" stroke-opacity="0.75"/>
<path d="M499.8 88.6 L499.1 90.5 L498.2 92.0 L497.1 93.1 L495.8 93.9 L494.3 94.3 L492.7 94.4 L490.7 94.0 L488.9 93.4 L487.5 92.5 L486.4 91.4 L485.7 90.0 L485.3 88.5 L485.2 86.8 L485.6 84.8 L486.3 82.9 L487.2 81.4 L488.3 80.3 L489.6 79.5 L491.1 79.1 L492.7 79.0 L494.7 79.4 L496.5 80.0 L497.9 80.9 L499.0 82.0 L499.7 83.4 L500.1 84.9 L500.2 86.6Z" fill="url(#gOl)" stroke="#7a3414" stroke-width="0.8" stroke-opacity="0.75"/>
<path d="M516.5 78.0 L515.6 80.6 L514.6 82.6 L513.3 84.2 L511.9 85.4 L510.3 86.1 L508.6 86.3 L506.5 86.0 L504.6 85.2 L503.2 84.2 L502.2 82.8 L501.5 81.0 L501.2 79.0 L501.3 76.8 L501.9 74.0 L502.8 71.4 L503.8 69.4 L505.1 67.8 L506.5 66.6 L508.1 65.9 L509.8 65.7 L511.9 66.0 L513.8 66.8 L515.2 67.8 L516.2 69.2 L516.9 71.0 L517.2 73.0 L517.1 75.2Z" fill="url(#gO)" stroke="#7a3414" stroke-width="0.8" stroke-opacity="0.75"/>
<path d="M516.9 87.2 L517.6 88.9 L517.8 90.4 L517.6 91.7 L517.2 93.0 L516.4 94.2 L515.3 95.1 L513.7 96.0 L512.0 96.7 L510.5 96.9 L509.2 96.7 L507.9 96.3 L506.7 95.5 L505.8 94.4 L504.9 92.8 L504.2 91.1 L504.0 89.6 L504.2 88.3 L504.6 87.0 L505.4 85.8 L506.5 84.9 L508.1 84.0 L509.8 83.3 L511.3 83.1 L512.6 83.3 L513.9 83.7 L515.1 84.5 L516.0 85.6Z" fill="url(#gO)" stroke="#7a3414" stroke-width="0.8" stroke-opacity="0.75"/>
<path d="M516.8 101.5 L517.1 103.7 L517.0 105.4 L516.7 106.9 L516.2 108.2 L515.4 109.2 L514.4 109.9 L513.1 110.3 L511.7 110.4 L510.5 110.1 L509.4 109.4 L508.5 108.4 L507.7 107.1 L507.1 105.4 L506.6 103.3 L506.3 101.1 L506.4 99.4 L506.7 97.9 L507.2 96.6 L508.0 95.6 L509.0 94.9 L510.3 94.5 L511.7 94.4 L512.9 94.7 L514.0 95.4 L514.9 96.4 L515.7 97.7 L516.3 99.4Z" fill="url(#gO)" stroke="#7a3414" stroke-width="0.8" stroke-opacity="0.75"/>
<path d="M293.2 113.7 L294.0 116.1 L294.0 118.2 L293.5 120.3 L292.3 122.3 L290.5 124.2 L288.2 125.9 L285.1 127.6 L281.8 129.0 L279.0 129.6 L276.4 129.7 L274.1 129.3 L272.1 128.4 L270.5 127.0 L269.2 124.9 L268.4 122.5 L268.4 120.4 L268.9 118.3 L270.1 116.3 L271.9 114.4 L274.2 112.7 L277.3 111.0 L280.6 109.6 L283.4 109.0 L286.0 108.9 L288.3 109.3 L290.3 110.2 L291.9 111.6Z" fill="url(#gO)" stroke="#7a3414" stroke-width="0.8" stroke-opacity="0.75"/>
<path d="M294.4 136.9 L293.4 138.1 L292.2 138.8 L290.7 139.2 L289.0 139.2 L287.1 138.8 L285.0 138.0 L282.5 136.7 L280.2 135.2 L278.4 133.7 L277.1 132.3 L276.3 130.8 L275.8 129.4 L275.9 128.0 L276.4 126.5 L277.4 125.3 L278.6 124.6 L280.1 124.2 L281.8 124.2 L283.7 124.6 L285.8 125.4 L288.3 126.7 L290.6 128.2 L292.4 129.7 L293.7 131.1 L294.5 132.6 L295.0 134.0 L294.9 135.4Z" fill="url(#gO)" stroke="#7a3414" stroke-width="0.8" stroke-opacity="0.75"/>
<path d="M293.7 145.7 L293.0 147.7 L291.9 149.2 L290.6 150.4 L288.9 151.1 L287.1 151.5 L285.0 151.5 L282.4 151.0 L280.0 150.1 L278.1 149.1 L276.7 147.8 L275.7 146.4 L275.1 144.7 L274.9 142.9 L275.3 140.7 L276.0 138.7 L277.1 137.2 L278.4 136.0 L280.1 135.3 L281.9 134.9 L284.0 134.9 L286.6 135.4 L289.0 136.3 L290.9 137.3 L292.3 138.6 L293.3 140.0 L293.9 141.7 L294.1 143.5Z" fill="url(#gO)" stroke="#7a3414" stroke-width="0.8" stroke-opacity="0.75"/>
<path d="M351.5 108.5 L352.0 110.1 L351.7 111.7 L350.9 113.4 L349.5 115.1 L347.5 116.7 L345.0 118.3 L341.7 120.0 L338.2 121.5 L335.4 122.4 L332.9 122.8 L330.7 122.8 L328.9 122.4 L327.5 121.6 L326.5 120.1 L326.0 118.5 L326.3 116.9 L327.1 115.2 L328.5 113.5 L330.5 111.9 L333.0 110.3 L336.3 108.6 L339.8 107.1 L342.6 106.2 L345.1 105.8 L347.3 105.8 L349.1 106.2 L350.5 107.0Z" fill="url(#gO)" stroke="#7a3414" stroke-width="0.8" stroke-opacity="0.75"/>
<path d="M349.0 164.4 L347.4 166.7 L345.9 168.4 L344.3 169.6 L342.6 170.4 L340.9 170.6 L339.1 170.4 L337.2 169.6 L335.6 168.3 L334.5 167.0 L333.9 165.3 L333.7 163.5 L333.9 161.5 L334.6 159.3 L335.8 156.8 L337.4 154.5 L338.9 152.8 L340.5 151.6 L342.2 150.8 L343.9 150.6 L345.7 150.8 L347.6 151.6 L349.2 152.9 L350.3 154.2 L350.9 155.9 L351.1 157.7 L350.9 159.7 L350.2 161.9Z" fill="url(#gO)" stroke="#7a3414" stroke-width="0.8" stroke-opacity="0.75"/>
<path d="M329.6 171.4 L330.4 173.9 L330.5 176.1 L330.0 178.2 L328.8 180.3 L327.1 182.2 L324.8 183.9 L321.6 185.7 L318.3 187.0 L315.5 187.6 L312.9 187.7 L310.6 187.2 L308.6 186.3 L307.0 184.8 L305.6 182.6 L304.8 180.1 L304.7 177.9 L305.2 175.8 L306.4 173.7 L308.1 171.8 L310.4 170.1 L313.6 168.3 L316.9 167.0 L319.7 166.4 L322.3 166.3 L324.6 166.8 L326.6 167.7 L328.2 169.2Z" fill="url(#gO)" stroke="#7a3414" stroke-width="0.8" stroke-opacity="0.75"/>
<ellipse cx="353.7" cy="110.7" rx="4.6" ry="5.75" fill="url(#gO)" transform="rotate(-10 353.7 110.7)" />
<ellipse cx="392.5" cy="110.7" rx="2.875" ry="2.875" fill="url(#gO)" transform="rotate(30 392.5 110.7)" />
<path d="M399.2 36.6 L400.0 38.6 L400.4 40.3 L400.5 41.9 L400.2 43.3 L399.6 44.5 L398.7 45.5 L397.4 46.3 L395.9 46.8 L394.6 46.8 L393.3 46.5 L392.0 45.8 L390.9 44.7 L389.8 43.4 L388.8 41.4 L388.0 39.4 L387.6 37.7 L387.5 36.1 L387.8 34.7 L388.4 33.5 L389.3 32.5 L390.6 31.7 L392.1 31.2 L393.4 31.2 L394.7 31.5 L396.0 32.2 L397.1 33.3 L398.2 34.6Z" fill="url(#gO)" stroke="#7a3414" stroke-width="0.8" stroke-opacity="0.75"/>
<ellipse cx="391" cy="63" rx="4.0249999999999995" ry="6.8999999999999995" fill="url(#gO)" transform="rotate(30 391 63)" />
<path d="M390.1 131.5 L388.3 134.1 L386.6 135.9 L384.7 137.2 L382.6 137.9 L380.5 138.1 L378.4 137.7 L376.1 136.7 L373.9 135.1 L372.5 133.5 L371.7 131.6 L371.3 129.5 L371.5 127.2 L372.2 124.7 L373.5 121.9 L375.3 119.3 L377.0 117.5 L378.9 116.2 L381.0 115.5 L383.1 115.3 L385.2 115.7 L387.5 116.7 L389.7 118.3 L391.1 119.9 L391.9 121.8 L392.3 123.9 L392.1 126.2 L391.4 128.7Z" fill="url(#gO)" stroke="#7a3414" stroke-width="0.8" stroke-opacity="0.75"/>
<path d="M376.1 137.2 L375.6 138.5 L375.0 139.5 L374.2 140.3 L373.3 140.8 L372.2 141.1 L371.0 141.2 L369.6 140.9 L368.3 140.4 L367.3 139.8 L366.5 139.0 L366.0 138.1 L365.7 137.0 L365.6 135.8 L365.9 134.4 L366.4 133.1 L367.0 132.1 L367.8 131.3 L368.7 130.8 L369.8 130.5 L371.0 130.4 L372.4 130.7 L373.7 131.2 L374.7 131.8 L375.5 132.6 L376.0 133.5 L376.3 134.6 L376.4 135.8Z" fill="url(#gO)" stroke="#7a3414" stroke-width="0.8" stroke-opacity="0.75"/>
<path d="M378.9 143.3 L379.6 145.3 L379.6 147.1 L379.0 148.8 L378.0 150.5 L376.5 152.1 L374.5 153.6 L371.7 155.1 L368.8 156.2 L366.4 156.8 L364.2 157.0 L362.2 156.7 L360.5 156.0 L359.2 154.8 L358.1 153.1 L357.4 151.1 L357.4 149.3 L358.0 147.6 L359.0 145.9 L360.5 144.3 L362.5 142.8 L365.3 141.3 L368.2 140.2 L370.6 139.6 L372.8 139.4 L374.8 139.7 L376.5 140.4 L377.8 141.6Z" fill="url(#gO)" stroke="#7a3414" stroke-width="0.8" stroke-opacity="0.75"/>
<path d="M393.4 149.2 L393.7 152.0 L393.5 154.3 L393.0 156.3 L392.0 157.9 L390.7 159.3 L389.0 160.3 L386.8 160.9 L384.5 161.1 L382.6 160.7 L380.9 159.9 L379.4 158.7 L378.2 157.0 L377.3 154.9 L376.6 152.2 L376.3 149.4 L376.5 147.1 L377.0 145.1 L378.0 143.5 L379.3 142.1 L381.0 141.1 L383.2 140.5 L385.5 140.3 L387.4 140.7 L389.1 141.5 L390.6 142.7 L391.8 144.4 L392.7 146.5Z" fill="url(#gOl)" stroke="#7a3414" stroke-width="0.8" stroke-opacity="0.75"/>
<path d="M403.5 148.7 L404.3 150.6 L404.6 152.3 L404.5 153.8 L404.1 155.2 L403.4 156.4 L402.3 157.5 L400.7 158.4 L399.0 159.0 L397.5 159.1 L396.1 158.9 L394.7 158.3 L393.5 157.4 L392.5 156.1 L391.5 154.3 L390.7 152.4 L390.4 150.7 L390.5 149.2 L390.9 147.8 L391.6 146.6 L392.7 145.5 L394.3 144.6 L396.0 144.0 L397.5 143.9 L398.9 144.1 L400.3 144.7 L401.5 145.6 L402.5 146.9Z" fill="url(#gO)" stroke="#7a3414" stroke-width="0.8" stroke-opacity="0.75"/>
<ellipse cx="373.5" cy="159" rx="8.049999999999999" ry="6.324999999999999" fill="url(#gD)" transform="rotate(30 373.5 159)" />
<path d="M439.9 150.6 L440.2 153.4 L440.0 155.7 L439.3 157.7 L438.2 159.4 L436.7 160.8 L434.8 161.8 L432.3 162.5 L429.7 162.7 L427.6 162.4 L425.7 161.6 L424.1 160.4 L422.8 158.7 L421.8 156.7 L421.1 154.0 L420.8 151.2 L421.0 148.9 L421.7 146.9 L422.8 145.2 L424.3 143.8 L426.2 142.8 L428.7 142.1 L431.3 141.9 L433.4 142.2 L435.3 143.0 L436.9 144.2 L438.2 145.9 L439.2 147.9Z" fill="url(#gO)" stroke="#7a3414" stroke-width="0.8" stroke-opacity="0.75"/>
<path d="M452.9 154.0 L452.6 156.8 L451.9 159.0 L450.7 160.9 L449.0 162.4 L447.0 163.5 L444.5 164.1 L441.4 164.3 L438.3 164.1 L435.8 163.5 L433.8 162.4 L432.1 160.9 L430.9 159.0 L430.2 156.8 L429.9 154.0 L430.2 151.2 L430.9 149.0 L432.1 147.1 L433.8 145.6 L435.8 144.5 L438.3 143.9 L441.4 143.7 L444.5 143.9 L447.0 144.5 L449.0 145.6 L450.7 147.1 L451.9 149.0 L452.6 151.2Z" fill="url(#gO)" stroke="#7a3414" stroke-width="0.8" stroke-opacity="0.75"/>
<path d="M444.9 149.4 L444.2 151.1 L443.3 152.4 L442.0 153.3 L440.5 154.0 L438.7 154.2 L436.7 154.2 L434.2 153.7 L431.8 152.9 L430.1 151.9 L428.7 150.8 L427.6 149.5 L427.0 148.0 L426.8 146.5 L427.1 144.6 L427.8 142.9 L428.7 141.6 L430.0 140.7 L431.5 140.0 L433.3 139.8 L435.3 139.8 L437.8 140.3 L440.2 141.1 L441.9 142.1 L443.3 143.2 L444.4 144.5 L445.0 146.0 L445.2 147.5Z" fill="url(#gO)" stroke="#7a3414" stroke-width="0.8" stroke-opacity="0.75"/>
<ellipse cx="354.5" cy="135.8" rx="4.6" ry="4.6" fill="url(#gO)" transform="rotate(-10 354.5 135.8)" />
<path d="M483.7 127.1 L482.8 128.4 L481.9 129.2 L480.8 129.8 L479.7 130.1 L478.5 130.1 L477.2 129.8 L475.8 129.2 L474.5 128.3 L473.7 127.4 L473.1 126.3 L472.8 125.2 L472.8 124.0 L473.1 122.7 L473.7 121.3 L474.6 120.0 L475.5 119.2 L476.6 118.6 L477.7 118.3 L478.9 118.3 L480.2 118.6 L481.6 119.2 L482.9 120.1 L483.7 121.0 L484.3 122.1 L484.6 123.2 L484.6 124.4 L484.3 125.7Z" fill="url(#gO)" stroke="#7a3414" stroke-width="0.8" stroke-opacity="0.75"/>
<path d="M478.9 137.2 L479.8 139.6 L480.2 141.7 L480.1 143.6 L479.6 145.4 L478.6 147.0 L477.2 148.3 L475.2 149.5 L473.1 150.2 L471.2 150.4 L469.3 150.2 L467.6 149.4 L466.1 148.3 L464.7 146.7 L463.5 144.4 L462.6 142.0 L462.2 139.9 L462.3 138.0 L462.8 136.2 L463.8 134.6 L465.2 133.3 L467.2 132.1 L469.3 131.4 L471.2 131.2 L473.1 131.4 L474.8 132.2 L476.3 133.3 L477.7 134.9Z" fill="url(#gOl)" stroke="#7a3414" stroke-width="0.8" stroke-opacity="0.75"/>
<path d="M478.7 168.9 L477.3 171.1 L475.9 172.6 L474.4 173.8 L472.9 174.5 L471.3 174.8 L469.8 174.6 L468.1 173.9 L466.7 172.8 L465.7 171.5 L465.2 170.1 L465.1 168.4 L465.3 166.6 L466.0 164.6 L467.1 162.3 L468.5 160.1 L469.9 158.6 L471.4 157.4 L472.9 156.7 L474.5 156.4 L476.0 156.6 L477.7 157.3 L479.1 158.4 L480.1 159.7 L480.6 161.1 L480.7 162.8 L480.5 164.6 L479.8 166.6Z" fill="url(#gO)" stroke="#7a3414" stroke-width="0.8" stroke-opacity="0.75"/>
<path d="M499.5 182.0 L499.3 185.1 L498.8 187.6 L497.9 189.6 L496.6 191.3 L495.1 192.5 L493.3 193.2 L491.0 193.5 L488.7 193.2 L486.9 192.5 L485.4 191.3 L484.1 189.6 L483.2 187.6 L482.7 185.1 L482.5 182.0 L482.7 178.9 L483.2 176.4 L484.1 174.4 L485.4 172.7 L486.9 171.5 L488.7 170.8 L491.0 170.5 L493.3 170.8 L495.1 171.5 L496.6 172.7 L497.9 174.4 L498.8 176.4 L499.3 178.9Z" fill="url(#gO)" stroke="#7a3414" stroke-width="0.8" stroke-opacity="0.75"/>
<ellipse cx="514" cy="162" rx="2.875" ry="7.475" fill="url(#gO)" transform="rotate(30 514 162)" />
<ellipse cx="509" cy="116" rx="4.6" ry="4.6" fill="url(#gO)" transform="rotate(-10 509 116)" />
<ellipse cx="391" cy="178" rx="3.4499999999999997" ry="6.8999999999999995" fill="url(#gO)" transform="rotate(-25 391 178)" />
<ellipse cx="286.2" cy="34.6" rx="6.8999999999999995" ry="6.8999999999999995" fill="url(#gM)" />
<ellipse cx="331.7" cy="39.6" rx="8.625" ry="7.475" fill="url(#gD)" transform="rotate(30 331.7 39.6)" />
<ellipse cx="312.6" cy="52.8" rx="11.5" ry="10.35" fill="url(#gD)" transform="rotate(30 312.6 52.8)" />
<ellipse cx="345.7" cy="49.5" rx="5.52" ry="5.52" fill="url(#gD)" transform="rotate(-10 345.7 49.5)" />
<ellipse cx="350" cy="71.8" rx="4.6" ry="4.6" fill="url(#gM)" />
<ellipse cx="384.2" cy="60.2" rx="13.225" ry="8.625" fill="url(#gD)" />
<ellipse cx="381.8" cy="107.4" rx="7.819999999999999" ry="7.819999999999999" fill="url(#gD)" transform="rotate(-25 381.8 107.4)" />
<ellipse cx="434.7" cy="51" rx="5.175" ry="8.625" fill="url(#gD)" transform="rotate(30 434.7 51)" />
<ellipse cx="352" cy="71" rx="2.875" ry="2.875" fill="url(#gM)" />
<ellipse cx="439" cy="49.5" rx="6.669999999999999" ry="8.51" fill="url(#gD)" transform="rotate(-25 439 49.5)" />
<ellipse cx="453" cy="43.7" rx="6.669999999999999" ry="6.669999999999999" fill="url(#gD)" transform="rotate(30 453 43.7)" />
<ellipse cx="464.6" cy="37" rx="6.324999999999999" ry="6.324999999999999" fill="url(#gD)" transform="rotate(-25 464.6 37)" />
<ellipse cx="461.3" cy="60.2" rx="6.8999999999999995" ry="6.8999999999999995" fill="url(#gD)" transform="rotate(30 461.3 60.2)" />
<ellipse cx="465.4" cy="98.3" rx="4.6" ry="4.6" fill="url(#gM)" />
<ellipse cx="500" cy="103" rx="7.589999999999999" ry="5.75" fill="url(#gM)" />
<ellipse cx="313.5" cy="120" rx="10.35" ry="8.625" fill="url(#gD)" transform="rotate(-10 313.5 120)" />
<ellipse cx="300.2" cy="136.6" rx="8.049999999999999" ry="8.049999999999999" fill="url(#gD)" transform="rotate(15 300.2 136.6)" />
<ellipse cx="345.7" cy="134" rx="9.545" ry="8.625" fill="url(#gD)" transform="rotate(30 345.7 134)" />
<ellipse cx="325.9" cy="154" rx="12.304999999999998" ry="9.545" fill="url(#gD)" transform="rotate(15 325.9 154)" />
<ellipse cx="335.8" cy="167" rx="4.6" ry="4.6" fill="url(#gD)" />
<ellipse cx="276.3" cy="188.7" rx="6.669999999999999" ry="6.669999999999999" fill="url(#gM)" />
<ellipse cx="301" cy="193" rx="4.6" ry="4.6" fill="url(#gM)" />
<ellipse cx="299.4" cy="113.5" rx="4.14" ry="4.14" fill="url(#gM)" />
<ellipse cx="423" cy="110" rx="7.475" ry="5.75" fill="url(#gD)" transform="rotate(15 423 110)" />
<ellipse cx="378.5" cy="169" rx="7.589999999999999" ry="9.545" fill="url(#gM)" />
<ellipse cx="385" cy="175.5" rx="5.75" ry="6.669999999999999" fill="url(#gD)" transform="rotate(30 385 175.5)" />
<ellipse cx="418" cy="129.2" rx="8.51" ry="9.545" fill="url(#gM)" />
<ellipse cx="424.8" cy="119.3" rx="7.589999999999999" ry="7.589999999999999" fill="url(#gD)" transform="rotate(15 424.8 119.3)" />
<ellipse cx="421.5" cy="112.7" rx="4.6" ry="3.4499999999999997" fill="url(#gM)" />
<ellipse cx="380" cy="112" rx="5.175" ry="4.0249999999999995" fill="url(#gM)" />
<ellipse cx="501" cy="122.6" rx="5.75" ry="5.75" fill="url(#gM)" />
<ellipse cx="483.6" cy="136.6" rx="5.289999999999999" ry="5.289999999999999" fill="url(#gD)" />
<ellipse cx="511.7" cy="192" rx="4.6" ry="4.6" fill="url(#gM)" />
<ellipse cx="515" cy="177" rx="2.7" ry="3.375" fill="url(#gB)" />
<ellipse cx="288.7" cy="42" rx="5.2" ry="5.2" fill="url(#gV)" />
<ellipse cx="319.3" cy="43.7" rx="7.800000000000001" ry="7.800000000000001" fill="url(#gV)" />
<ellipse cx="298.6" cy="50.3" rx="3.9000000000000004" ry="3.9000000000000004" fill="url(#gV)" />
<ellipse cx="275.4" cy="75" rx="6.89" ry="6.89" fill="url(#gV)" />
<ellipse cx="383.4" cy="47" rx="7.54" ry="7.54" fill="url(#gV)" />
<ellipse cx="355.3" cy="58.6" rx="6.5" ry="6.5" fill="url(#gV)" />
<ellipse cx="371.8" cy="81.7" rx="8.58" ry="8.58" fill="url(#gV)" />
<ellipse cx="424.8" cy="57.8" rx="6.5" ry="6.5" fill="url(#gV)" />
<ellipse cx="432.2" cy="90.8" rx="9.620000000000001" ry="8.19" fill="url(#gV)" />
<ellipse cx="449.7" cy="53.6" rx="5.9799999999999995" ry="5.9799999999999995" fill="url(#gV)" />
<ellipse cx="438" cy="90" rx="6.5" ry="6.5" fill="url(#gV)" />
<ellipse cx="458.8" cy="91.7" rx="6.5" ry="6.5" fill="url(#gV)" />
<ellipse cx="509" cy="76" rx="4.29" ry="4.29" fill="url(#gV)" />
<ellipse cx="287.8" cy="115" rx="6.5" ry="6.5" fill="url(#gV)" />
<ellipse cx="330.8" cy="124" rx="5.2" ry="5.2" fill="url(#gV)" />
<ellipse cx="323.4" cy="164" rx="6.5" ry="6.5" fill="url(#gV)" />
<ellipse cx="286" cy="192" rx="5.2" ry="5.2" fill="url(#gV)" />
<ellipse cx="357.8" cy="125" rx="7.54" ry="7.54" fill="url(#gV)" />
<ellipse cx="416.5" cy="151.5" rx="6.89" ry="6.89" fill="url(#gV)" />
<ellipse cx="489.4" cy="122.6" rx="6.5" ry="6.5" fill="url(#gV)" />
<ellipse cx="500" cy="113.5" rx="5.2" ry="5.2" fill="url(#gV)" />
<ellipse cx="490.2" cy="147.4" rx="7.54" ry="7.54" fill="url(#gV)" />
<ellipse cx="487" cy="158" rx="8.19" ry="8.19" fill="url(#gV)" />
<ellipse cx="401.6" cy="121.7" rx="10.4" ry="7.15" fill="url(#gBv)" />
<ellipse cx="436.5" cy="140" rx="5.2" ry="5.2" fill="url(#gV)" />
<ellipse cx="378.5" cy="172" rx="4.55" ry="4.55" fill="url(#gV)" />
<ellipse cx="299.4" cy="58.6" rx="6.75" ry="6.75" fill="url(#gB)" />
<ellipse cx="285.4" cy="78.4" rx="4.86" ry="4.86" fill="url(#gB)" />
<ellipse cx="297.8" cy="80" rx="6.75" ry="6.75" fill="url(#gB)" />
<ellipse cx="316.8" cy="83.4" rx="4.86" ry="4.86" fill="url(#gB)" />
<ellipse cx="472.9" cy="34.6" rx="2.7" ry="2.7" fill="url(#gB)" />
<ellipse cx="313.5" cy="119" rx="4.050000000000001" ry="4.050000000000001" fill="url(#gB)" />
<ellipse cx="300" cy="137.5" rx="4.050000000000001" ry="4.050000000000001" fill="url(#gB)" />
<ellipse cx="273" cy="148.2" rx="4.050000000000001" ry="4.050000000000001" fill="url(#gB)" />
<ellipse cx="295.3" cy="154" rx="4.86" ry="4.86" fill="url(#gB)" />
<ellipse cx="349" cy="115" rx="4.050000000000001" ry="4.050000000000001" fill="url(#gB)" />
<ellipse cx="311" cy="163" rx="4.050000000000001" ry="4.050000000000001" fill="url(#gB)" />
<ellipse cx="331.7" cy="173" rx="4.050000000000001" ry="4.050000000000001" fill="url(#gB)" />
<ellipse cx="381.8" cy="107.4" rx="3.78" ry="3.78" fill="url(#gB)" />
<ellipse cx="418" cy="128" rx="4.7250000000000005" ry="4.7250000000000005" fill="url(#gB)" />
</g></g>
<g filter="url(#bl)">
<ellipse cx="83.75" cy="227.5" rx="12.3" ry="11.3" fill="#1d5aa8" />
<ellipse cx="85" cy="228.5" rx="7" ry="6" fill="#2660b0" />
<ellipse cx="80" cy="224" rx="4" ry="3" fill="#1a4a96" />
<ellipse cx="117" cy="227.5" rx="11.3" ry="11.3" fill="#0f3270" />
<ellipse cx="117.5" cy="228" rx="7" ry="7" fill="#0c2856" />
<ellipse cx="226.25" cy="227.5" rx="10.5" ry="10.5" fill="#170a22" />
<ellipse cx="226" cy="227.5" rx="6.5" ry="6.5" fill="#24102e" />
<ellipse cx="350.5" cy="221.25" rx="9.3" ry="7.5" fill="#1a0a10" transform="rotate(10 350.5 221.25)" />
<ellipse cx="350.5" cy="221.25" rx="7.8" ry="6" fill="#68121c" transform="rotate(10 350.5 221.25)" />
<ellipse cx="345" cy="241.25" rx="8.3" ry="7" fill="#1a0a10" transform="rotate(-10 345 241.25)" />
<ellipse cx="345" cy="241.25" rx="6.8" ry="5.5" fill="#68121c" transform="rotate(-10 345 241.25)" />
<ellipse cx="358" cy="239.5" rx="5" ry="5" fill="#14142c" />
</g>
<g filter="url(#tb)">
<rect x="3.25" y="30.75" width="246.25" height="164.75" fill="none" stroke="#000" stroke-width="1.5"/>
<rect x="270" y="30.75" width="245.75" height="164.75" fill="none" stroke="#000" stroke-width="1.5"/>
<text transform="translate(16.25,228.1) scale(1,1.04)" font-size="17" text-anchor="start" textLength="43.75" lengthAdjust="spacingAndGlyphs" style="font-family:'Liberation Serif',serif;stroke:#000;stroke-width:0.3;font-weight:bold" >prolif.</text>
<text transform="translate(16.25,244.6) scale(1,1.04)" font-size="17" text-anchor="start" textLength="41.75" lengthAdjust="spacingAndGlyphs" style="font-family:'Liberation Serif',serif;stroke:#000;stroke-width:0.3;font-weight:bold" >blasts</text>
<text transform="translate(172,227.8) scale(1,1.04)" font-size="17" text-anchor="start" textLength="29.75" lengthAdjust="spacingAndGlyphs" style="font-family:'Liberation Serif',serif;stroke:#000;stroke-width:0.3;font-weight:bold" >diff.</text>
<text transform="translate(172,245.3) scale(1,1.04)" font-size="17" text-anchor="start" textLength="41.75" lengthAdjust="spacingAndGlyphs" style="font-family:'Liberation Serif',serif;stroke:#000;stroke-width:0.3;font-weight:bold" >blasts</text>
<text transform="translate(277.5,227.9) scale(1,1.03)" font-size="17.5" text-anchor="start" textLength="62" lengthAdjust="spacingAndGlyphs" style="font-family:'Liberation Serif',serif;stroke:#000;stroke-width:0.3;font-weight:bold" >erythro-</text>
<text x="290" y="245.5" font-size="17.2" text-anchor="start" textLength="36.25" lengthAdjust="spacingAndGlyphs" style="font-family:'Liberation Serif',serif;stroke:#000;stroke-width:0.3;font-weight:bold" >cytes</text>
<text x="163.8" y="305.8" font-size="17" text-anchor="start" textLength="45" lengthAdjust="spacingAndGlyphs" style="font-family:'Liberation Serif',serif;stroke:#000;stroke-width:0.3;font-weight:bold" >ES-EP</text>
<text x="293" y="305.8" font-size="17.5" text-anchor="start" textLength="192.5" lengthAdjust="spacingAndGlyphs" style="font-family:'Liberation Serif',serif;stroke:#000;stroke-width:0.3;font-weight:bold" >Fetal Liver Bone Marrow</text>
<text transform="translate(34.6,531) rotate(-90) scale(1,1.08)" font-size="17.7" text-anchor="start" textLength="214" lengthAdjust="spacingAndGlyphs" style="font-family:'Liberation Serif',serif;font-weight:bold;stroke:#000;stroke-width:0.3">hemoglobin/cell/ cell volume</text>
<text transform="translate(51.8,483.4) rotate(-90) scale(1,1.08)" font-size="17.5" text-anchor="start" textLength="128.4" lengthAdjust="spacingAndGlyphs" style="font-family:'Liberation Serif',serif;font-weight:bold;stroke:#000;stroke-width:0.3">(arbtitrary units)</text>
<rect x="90" y="315.4" width="198.75" height="207.20000000000005" fill="none" stroke="#000" stroke-width="1.5"/>
<rect x="294.25" y="315.4" width="85.25" height="207.20000000000005" fill="none" stroke="#000" stroke-width="1.5"/>
<rect x="385.25" y="315.4" width="87.25" height="207.20000000000005" fill="none" stroke="#000" stroke-width="1.5"/>
<line x1="85.5" x2="90" y1="522.9" y2="522.9" stroke="#000" stroke-width="1.5"/>
<text transform="translate(79.6,528.8) scale(1,1.06)" font-size="17.2" text-anchor="end" style="font-family:'Liberation Serif',serif;stroke:#000;stroke-width:0.3;font-weight:bold" >0</text>
<line x1="85.5" x2="90" y1="482.9" y2="482.9" stroke="#000" stroke-width="1.5"/>
<text transform="translate(79.6,488.79999999999995) scale(1,1.06)" font-size="17.2" text-anchor="end" style="font-family:'Liberation Serif',serif;stroke:#000;stroke-width:0.3;font-weight:bold" >20</text>
<line x1="85.5" x2="90" y1="442.9" y2="442.9" stroke="#000" stroke-width="1.5"/>
<text transform="translate(79.6,448.79999999999995) scale(1,1.06)" font-size="17.2" text-anchor="end" style="font-family:'Liberation Serif',serif;stroke:#000;stroke-width:0.3;font-weight:bold" >40</text>
<line x1="85.5" x2="90" y1="402.9" y2="402.9" stroke="#000" stroke-width="1.5"/>
<text transform="translate(79.6,408.79999999999995) scale(1,1.06)" font-size="17.2" text-anchor="end" style="font-family:'Liberation Serif',serif;stroke:#000;stroke-width:0.3;font-weight:bold" >60</text>
<line x1="85.5" x2="90" y1="362.9" y2="362.9" stroke="#000" stroke-width="1.5"/>
<text transform="translate(79.6,368.79999999999995) scale(1,1.06)" font-size="17.2" text-anchor="end" style="font-family:'Liberation Serif',serif;stroke:#000;stroke-width:0.3;font-weight:bold" >80</text>
<line x1="85.5" x2="90" y1="322.9" y2="322.9" stroke="#000" stroke-width="1.5"/>
<text transform="translate(79.6,328.79999999999995) scale(1,1.06)" font-size="17.2" text-anchor="end" style="font-family:'Liberation Serif',serif;stroke:#000;stroke-width:0.3;font-weight:bold" >100</text>
<rect x="102.4" y="508.4" width="15.0" height="14.2" fill="#4a5da6" stroke="#3c4c93" stroke-width="0.8"/>
<rect x="121.7" y="452.6" width="15.0" height="70.0" fill="#4a5da6" stroke="#3c4c93" stroke-width="0.8"/>
<rect x="141.0" y="337.6" width="15.0" height="185.0" fill="#4a5da6" stroke="#3c4c93" stroke-width="0.8"/>
<rect x="160.0" y="324.6" width="15.0" height="198.0" fill="#4a5da6" stroke="#3c4c93" stroke-width="0.8"/>
<rect x="205.4" y="487.4" width="14.5" height="35.2" fill="#4a5da6" stroke="#3c4c93" stroke-width="0.8"/>
<rect x="224.1" y="476.6" width="14.5" height="46.0" fill="#4a5da6" stroke="#3c4c93" stroke-width="0.8"/>
<rect x="243.1" y="391.0" width="14.5" height="131.6" fill="#4a5da6" stroke="#3c4c93" stroke-width="0.8"/>
<rect x="262.4" y="324.0" width="14.5" height="198.6" fill="#4a5da6" stroke="#3c4c93" stroke-width="0.8"/>
<rect x="298.4" y="509.2" width="15.5" height="13.4" fill="#4a5da6" stroke="#3c4c93" stroke-width="0.8"/>
<rect x="318.79999999999995" y="474.6" width="15.5" height="48.0" fill="#4a5da6" stroke="#3c4c93" stroke-width="0.8"/>
<rect x="338.4" y="347.8" width="15.5" height="174.8" fill="#4a5da6" stroke="#3c4c93" stroke-width="0.8"/>
<rect x="358.59999999999997" y="324.0" width="15.5" height="198.6" fill="#4a5da6" stroke="#3c4c93" stroke-width="0.8"/>
<rect x="391.9" y="521.2" width="15.399999999999999" height="1.4" fill="#2a2f55" stroke="#1d2040" stroke-width="0.8"/>
<rect x="411.2" y="512.2" width="15.399999999999999" height="10.4" fill="#4a5da6" stroke="#3c4c93" stroke-width="0.8"/>
<rect x="430.4" y="437.0" width="15.399999999999999" height="85.6" fill="#4a5da6" stroke="#3c4c93" stroke-width="0.8"/>
<rect x="449.29999999999995" y="324.0" width="15.399999999999999" height="198.6" fill="#4a5da6" stroke="#3c4c93" stroke-width="0.8"/>
<line x1="110.5" x2="110.5" y1="522.6" y2="528.8" stroke="#000" stroke-width="1.3"/>
<line x1="128" x2="128" y1="522.6" y2="528.8" stroke="#000" stroke-width="1.3"/>
<line x1="148.25" x2="148.25" y1="522.6" y2="528.8" stroke="#000" stroke-width="1.3"/>
<line x1="167.5" x2="167.5" y1="522.6" y2="528.8" stroke="#000" stroke-width="1.3"/>
<line x1="213" x2="213" y1="522.6" y2="528.8" stroke="#000" stroke-width="1.3"/>
<line x1="231.25" x2="231.25" y1="522.6" y2="528.8" stroke="#000" stroke-width="1.3"/>
<line x1="250.75" x2="250.75" y1="522.6" y2="528.8" stroke="#000" stroke-width="1.3"/>
<line x1="270.5" x2="270.5" y1="522.6" y2="528.8" stroke="#000" stroke-width="1.3"/>
<line x1="306.7" x2="306.7" y1="522.6" y2="528.8" stroke="#000" stroke-width="1.3"/>
<line x1="327" x2="327" y1="522.6" y2="528.8" stroke="#000" stroke-width="1.3"/>
<line x1="346.3" x2="346.3" y1="522.6" y2="528.8" stroke="#000" stroke-width="1.3"/>
<line x1="366.3" x2="366.3" y1="522.6" y2="528.8" stroke="#000" stroke-width="1.3"/>
<line x1="398.8" x2="398.8" y1="522.6" y2="528.8" stroke="#000" stroke-width="1.3"/>
<line x1="418.2" x2="418.2" y1="522.6" y2="528.8" stroke="#000" stroke-width="1.3"/>
<line x1="437.3" x2="437.3" y1="522.6" y2="528.8" stroke="#000" stroke-width="1.3"/>
<line x1="456.3" x2="456.3" y1="522.6" y2="528.8" stroke="#000" stroke-width="1.3"/>
<text x="104.25" y="547.6" font-size="17" text-anchor="start" style="font-family:'Liberation Serif',serif;stroke:#000;stroke-width:0.3;font-weight:bold" >0</text>
<text x="118" y="547.6" font-size="17" text-anchor="start" style="font-family:'Liberation Serif',serif;stroke:#000;stroke-width:0.3;font-weight:bold" >24</text>
<text x="139.5" y="547.6" font-size="17" text-anchor="start" style="font-family:'Liberation Serif',serif;stroke:#000;stroke-width:0.3;font-weight:bold" >48</text>
<text x="160" y="547.6" font-size="17" text-anchor="start" style="font-family:'Liberation Serif',serif;stroke:#000;stroke-width:0.3;font-weight:bold" >72</text>
<text x="207" y="547.6" font-size="17" text-anchor="start" style="font-family:'Liberation Serif',serif;stroke:#000;stroke-width:0.3;font-weight:bold" >0</text>
<text x="220.5" y="547.6" font-size="17" text-anchor="start" style="font-family:'Liberation Serif',serif;stroke:#000;stroke-width:0.3;font-weight:bold" >24</text>
<text x="242" y="547.6" font-size="17" text-anchor="start" style="font-family:'Liberation Serif',serif;stroke:#000;stroke-width:0.3;font-weight:bold" >48</text>
<text x="262.3" y="547.6" font-size="17" text-anchor="start" style="font-family:'Liberation Serif',serif;stroke:#000;stroke-width:0.3;font-weight:bold" >72</text>
<text x="303.3" y="547.6" font-size="17" text-anchor="start" style="font-family:'Liberation Serif',serif;stroke:#000;stroke-width:0.3;font-weight:bold" >0</text>
<text x="315.8" y="547.6" font-size="17" text-anchor="start" style="font-family:'Liberation Serif',serif;stroke:#000;stroke-width:0.3;font-weight:bold" >24</text>
<text x="337" y="547.6" font-size="17" text-anchor="start" style="font-family:'Liberation Serif',serif;stroke:#000;stroke-width:0.3;font-weight:bold" >48</text>
<text x="355.5" y="547.6" font-size="17" text-anchor="start" style="font-family:'Liberation Serif',serif;stroke:#000;stroke-width:0.3;font-weight:bold" >72</text>
<text x="394" y="547.6" font-size="17" text-anchor="start" style="font-family:'Liberation Serif',serif;stroke:#000;stroke-width:0.3;font-weight:bold" >0</text>
<text x="406.8" y="547.6" font-size="17" text-anchor="start" style="font-family:'Liberation Serif',serif;stroke:#000;stroke-width:0.3;font-weight:bold" >24</text>
<text x="430" y="547.6" font-size="17" text-anchor="start" style="font-family:'Liberation Serif',serif;stroke:#000;stroke-width:0.3;font-weight:bold" >48</text>
<text x="446.2" y="547.6" font-size="17" text-anchor="start" style="font-family:'Liberation Serif',serif;stroke:#000;stroke-width:0.3;font-weight:bold" >72</text>
<text x="102.5" y="332.8" font-size="17.3" text-anchor="start" textLength="48.25" lengthAdjust="spacingAndGlyphs" style="font-family:'Liberation Serif',serif;stroke:#000;stroke-width:0.3;font-weight:bold" >day 16</text>
<text x="205" y="333.5" font-size="17.3" text-anchor="start" textLength="48.75" lengthAdjust="spacingAndGlyphs" style="font-family:'Liberation Serif',serif;stroke:#000;stroke-width:0.3;font-weight:bold" >day 94</text>
<text x="172.5" y="575" font-size="17.5" text-anchor="start" textLength="209.5" lengthAdjust="spacingAndGlyphs" style="font-family:'Liberation Serif',serif;stroke:#000;stroke-width:0.3;font-weight:bold" >erythroid differentiation (h)</text>
<text x="110" y="627.6" font-size="17" text-anchor="start" textLength="45" lengthAdjust="spacingAndGlyphs" style="font-family:'Liberation Serif',serif;stroke:#000;stroke-width:0.3;font-weight:bold" >ES-EP</text>
<g id="histC"></g>
<clipPath id="clipC"><rect x="59.7" y="635.5" width="155.5" height="231"/></clipPath>
<clipPath id="clipTan"><polygon points="69.8,780.6 69.8,684.0 82.0,684.0 84.0,693.5 86.0,716.5 86.9,732.0 90.8,740.0 96.5,752.5 100.4,752.5 103.3,732.3 105.3,724.5 107.1,720.8 108.8,724.5 110.4,730.4 113.8,737.7 117.7,740.4 120.5,739.3 123.5,737.0 127.3,732.0 129.3,729.3 130.8,728.5 132.5,730.3 135.0,736.0 138.8,747.7 141.5,753.5 144.6,759.0 148.0,764.0 152.3,768.0 156.0,771.5 160.0,773.5 166.0,774.8 172.0,775.8 179.0,776.6 186.0,778.0 192.0,778.5 199.0,779.0 208.6,779.5 208.6,780.8"/></clipPath>
<g clip-path="url(#clipC)">
<polygon points="69.8,732.0 69.8,635.5 83.0,635.5 85.0,658.8 86.9,678.0 88.8,695.4 90.8,704.0 93.1,707.9 95.6,701.0 98.5,687.7 101.3,676.0 103.5,670.5 105.2,668.3 106.5,669.2 108.0,671.3 110.0,675.5 110.8,675.0 112.0,678.0 113.5,682.5 114.3,682.0 115.8,685.8 117.0,691.0 118.7,695.4 120.0,706.0 121.5,709.5 123.5,713.0 125.8,716.0 127.0,717.8 128.5,718.5 131.5,721.8 133.0,722.3 135.0,723.6 137.0,724.0 139.2,725.0 142.0,725.6 145.0,726.6 148.8,727.0 152.0,727.8 155.0,728.0 158.5,728.8 162.0,729.3 165.0,730.0 168.0,730.3 175.0,730.5 185.0,730.6 208.6,730.7 208.6,732.2" fill="#ff8440" />
<polygon points="69.8,780.6 69.8,684.0 82.0,684.0 84.0,693.5 86.0,716.5 86.9,732.0 90.8,740.0 96.5,752.5 100.4,752.5 103.3,732.3 105.3,724.5 107.1,720.8 108.8,724.5 110.4,730.4 113.8,737.7 117.7,740.4 120.5,739.3 123.5,737.0 127.3,732.0 129.3,729.3 130.8,728.5 132.5,730.3 135.0,736.0 138.8,747.7 141.5,753.5 144.6,759.0 148.0,764.0 152.3,768.0 156.0,771.5 160.0,773.5 166.0,774.8 172.0,775.8 179.0,776.6 186.0,778.0 192.0,778.5 199.0,779.0 208.6,779.5 208.6,780.8" fill="#bb9579" />
<polygon points="69.8,825.3 69.8,728.8 82.0,728.8 84.0,753.5 86.9,772.7 88.5,780.4 91.7,790.0 94.6,797.7 98.5,803.5 101.0,806.0 103.3,809.2 105.0,808.6 107.0,810.5 109.5,810.0 111.9,811.2 114.5,811.0 117.7,812.0 120.5,811.0 123.5,809.2 127.3,803.5 131.2,795.8 135.0,786.0 137.9,777.5 139.8,776.0 141.7,778.5 144.6,768.8 146.2,766.2 147.5,765.4 148.8,766.2 150.4,768.8 152.2,772.0 154.2,776.5 155.0,776.0 157.1,780.4 159.1,786.0 160.0,786.5 162.0,792.0 165.5,800.0 166.2,800.0 168.0,805.0 170.8,810.0 173.0,812.0 176.0,813.2 179.2,815.5 181.3,816.4 184.0,817.2 186.0,818.8 189.0,819.5 192.3,820.5 196.0,822.0 200.0,822.8 204.0,823.4 208.6,824.2 208.6,825.5" fill="#4a5ea6" />
<polygon points="69.8,825.3 69.8,728.8 82.0,728.8 84.0,753.5 86.9,772.7 88.5,780.4 91.7,790.0 94.6,797.7 98.5,803.5 101.0,806.0 103.3,809.2 105.0,808.6 107.0,810.5 109.5,810.0 111.9,811.2 114.5,811.0 117.7,812.0 120.5,811.0 123.5,809.2 127.3,803.5 131.2,795.8 135.0,786.0 137.9,777.5 139.8,776.0 141.7,778.5 144.6,768.8 146.2,766.2 147.5,765.4 148.8,766.2 150.4,768.8 152.2,772.0 154.2,776.5 155.0,776.0 157.1,780.4 159.1,786.0 160.0,786.5 162.0,792.0 165.5,800.0 166.2,800.0 168.0,805.0 170.8,810.0 173.0,812.0 176.0,813.2 179.2,815.5 181.3,816.4 184.0,817.2 186.0,818.8 189.0,819.5 192.3,820.5 196.0,822.0 200.0,822.8 204.0,823.4 208.6,824.2 208.6,825.5" fill="#2d3179" clip-path="url(#clipTan)"/>
<polygon points="68.9,866.5 68.9,769.8 75.4,769.8 77.3,784.2 80.2,799.6 83.0,813.0 86.0,825.0 88.8,835.0 91.0,840.5 93.0,842.5 96.0,846.5 99.0,850.5 102.5,854.6 104.5,858.5 106.5,859.0 108.9,860.6 112.0,860.2 115.0,861.2 118.0,861.0 121.0,861.6 124.0,860.8 127.0,860.5 130.6,857.8 133.0,856.8 135.5,853.5 139.0,849.3 142.0,845.5 145.4,839.8 147.0,834.0 148.6,825.0 150.3,820.3 152.2,818.2 153.8,820.8 156.0,827.0 158.5,834.0 161.3,842.0 163.5,849.0 165.5,854.6 168.5,858.8 172.9,862.0 178.0,864.0 183.5,865.2 190.0,865.6 196.0,865.3 202.0,865.8 210.6,865.9 210.6,866.5" fill="#0f2963" />
</g>
<rect x="59.7" y="635.5" width="155.5" height="231" fill="none" stroke="#000" stroke-width="1.5"/>
<line x1="56" x2="59.7" y1="790.2" y2="790.2" stroke="#000" stroke-width="1.3"/>
<text x="36.5" y="798.2" font-size="17.5" text-anchor="start" textLength="18" lengthAdjust="spacingAndGlyphs" style="font-family:'Liberation Serif',serif;stroke:#000;stroke-width:0.3;font-weight:bold" >30</text>
<line x1="56" x2="59.7" y1="816.4" y2="816.4" stroke="#000" stroke-width="1.3"/>
<text x="36.5" y="824.4" font-size="17.5" text-anchor="start" textLength="18" lengthAdjust="spacingAndGlyphs" style="font-family:'Liberation Serif',serif;stroke:#000;stroke-width:0.3;font-weight:bold" >20</text>
<line x1="56" x2="59.7" y1="843.6" y2="843.6" stroke="#000" stroke-width="1.3"/>
<text x="36.5" y="851.6" font-size="17.5" text-anchor="start" textLength="18" lengthAdjust="spacingAndGlyphs" style="font-family:'Liberation Serif',serif;stroke:#000;stroke-width:0.3;font-weight:bold" >10</text>
<line x1="56" x2="59.7" y1="866" y2="866" stroke="#000" stroke-width="1.3"/>
<text x="42.3" y="874" font-size="17.5" text-anchor="start" style="font-family:'Liberation Serif',serif;stroke:#000;stroke-width:0.3;font-weight:bold" >0</text>
<line x1="85" x2="85" y1="866.5" y2="870" stroke="#000" stroke-width="1.3"/>
<line x1="110.2" x2="110.2" y1="866.5" y2="870" stroke="#000" stroke-width="1.3"/>
<line x1="135.9" x2="135.9" y1="866.5" y2="870" stroke="#000" stroke-width="1.3"/>
<line x1="161.7" x2="161.7" y1="866.5" y2="870" stroke="#000" stroke-width="1.3"/>
<line x1="187.3" x2="187.3" y1="866.5" y2="870" stroke="#000" stroke-width="1.3"/>
<line x1="213" x2="213" y1="866.5" y2="870" stroke="#000" stroke-width="1.3"/>
<text x="72.9" y="887.4" font-size="17" text-anchor="start" textLength="21.1" lengthAdjust="spacingAndGlyphs" style="font-family:'Liberation Serif',serif;stroke:#000;stroke-width:0.3;font-weight:bold" >2.5</text>
<text x="106.7" y="887.4" font-size="17" text-anchor="start" style="font-family:'Liberation Serif',serif;stroke:#000;stroke-width:0.3;font-weight:bold" >5</text>
<text x="125" y="887.4" font-size="17" text-anchor="start" textLength="21.2" lengthAdjust="spacingAndGlyphs" style="font-family:'Liberation Serif',serif;stroke:#000;stroke-width:0.3;font-weight:bold" >7.5</text>
<text x="154.6" y="887.4" font-size="17" text-anchor="start" textLength="18.3" lengthAdjust="spacingAndGlyphs" style="font-family:'Liberation Serif',serif;stroke:#000;stroke-width:0.3;font-weight:bold" >10</text>
<text x="172.9" y="887.4" font-size="17" text-anchor="start" textLength="28.5" lengthAdjust="spacingAndGlyphs" style="font-family:'Liberation Serif',serif;stroke:#000;stroke-width:0.3;font-weight:bold" >12.5</text>
<text x="206.7" y="887.4" font-size="17" text-anchor="start" textLength="18" lengthAdjust="spacingAndGlyphs" style="font-family:'Liberation Serif',serif;stroke:#000;stroke-width:0.3;font-weight:bold" >15</text>
<text x="92.7" y="908.6" font-size="17.5" text-anchor="start" textLength="103" lengthAdjust="spacingAndGlyphs" style="font-family:'Liberation Serif',serif;stroke:#000;stroke-width:0.3;font-weight:bold" >cell size (mm)</text>
<text transform="translate(29.5,843.3) rotate(-90) scale(1,1.0)" font-size="17.5" text-anchor="start" textLength="72.7" lengthAdjust="spacingAndGlyphs" style="font-family:'Liberation Serif',serif;font-weight:bold;stroke:#000;stroke-width:0.3">cell count</text>
<text x="180.9" y="713.8" font-size="17" text-anchor="start" textLength="30.4" lengthAdjust="spacingAndGlyphs" style="font-family:'Liberation Serif',serif;stroke:#000;stroke-width:0.3;font-weight:bold" >72 h</text>
<text x="180.9" y="759.5" font-size="17" text-anchor="start" textLength="30.4" lengthAdjust="spacingAndGlyphs" style="font-family:'Liberation Serif',serif;stroke:#000;stroke-width:0.3;font-weight:bold" >48 h</text>
<text x="180.3" y="803.8" font-size="17" text-anchor="start" textLength="30.7" lengthAdjust="spacingAndGlyphs" style="font-family:'Liberation Serif',serif;stroke:#000;stroke-width:0.3;font-weight:bold" >24 h</text>
<text x="188.1" y="852.5" font-size="17" text-anchor="start" textLength="22.9" lengthAdjust="spacingAndGlyphs" style="font-family:'Liberation Serif',serif;stroke:#000;stroke-width:0.3;font-weight:bold" >0 h</text>
<rect x="318" y="666.5" width="189.5" height="200" fill="none" stroke="#000" stroke-width="1.5"/>
<line x1="313.5" x2="318" y1="673" y2="673" stroke="#000" stroke-width="1.3"/>
<line x1="313.5" x2="318" y1="685.8" y2="685.8" stroke="#000" stroke-width="1.3"/>
<line x1="313.5" x2="318" y1="711.6" y2="711.6" stroke="#000" stroke-width="1.3"/>
<line x1="313.5" x2="318" y1="747" y2="747" stroke="#000" stroke-width="1.3"/>
<line x1="313.5" x2="318" y1="806.2" y2="806.2" stroke="#000" stroke-width="1.3"/>
<line x1="313.5" x2="318" y1="865.3" y2="865.3" stroke="#000" stroke-width="1.3"/>
<line x1="318" x2="318" y1="866.5" y2="872.5" stroke="#000" stroke-width="1.3"/>
<line x1="381.3" x2="381.3" y1="866.5" y2="872.5" stroke="#000" stroke-width="1.3"/>
<line x1="444.2" x2="444.2" y1="866.5" y2="872.5" stroke="#000" stroke-width="1.3"/>
<line x1="507.5" x2="507.5" y1="866.5" y2="872.5" stroke="#000" stroke-width="1.3"/>
<clipPath id="clipD"><rect x="318" y="666.5" width="189.5" height="200"/></clipPath>
<polyline points="318,806.2 381.5,730 444.6,684.2 507.5,686" fill="none" stroke="#c41230" stroke-width="2.7" stroke-linejoin="round" clip-path="url(#clipD)"/>
<polyline points="318,806.2 381.5,732.5 444.6,698 507.5,702.3" fill="none" stroke="black" stroke-width="2.7" stroke-linejoin="round" clip-path="url(#clipD)"/>
<polyline points="318,806.2 381.5,727.5 444.6,706.6 507.5,706" fill="none" stroke="#1f4f8f" stroke-width="2.7" stroke-linejoin="round" clip-path="url(#clipD)"/>
<line x1="375.4" x2="393.2" y1="787.7" y2="787.7" stroke="#c41230" stroke-width="2.3"/>
<line x1="375.4" x2="393.2" y1="805.5" y2="805.5" stroke="#000" stroke-width="2.3"/>
<line x1="375.4" x2="393.2" y1="822.5" y2="822.5" stroke="#1f4f8f" stroke-width="2.3"/>
<text x="401.5" y="793.2" font-size="15.5" text-anchor="start" textLength="90.8" lengthAdjust="spacingAndGlyphs" style="font-family:'Liberation Serif',serif;stroke:#000;stroke-width:0.3;font-weight:bold" >ES-EP day 96</text>
<text x="401.5" y="810.8" font-size="15.5" text-anchor="start" textLength="90.8" lengthAdjust="spacingAndGlyphs" style="font-family:'Liberation Serif',serif;stroke:#000;stroke-width:0.3;font-weight:bold" >FL-EP day 16</text>
<text x="401.5" y="828.3" font-size="15.5" text-anchor="start" textLength="90.8" lengthAdjust="spacingAndGlyphs" style="font-family:'Liberation Serif',serif;stroke:#000;stroke-width:0.3;font-weight:bold" >ES-EP day 16</text>
<text x="273.2" y="683.7" font-size="18" text-anchor="start" style="font-family:'Liberation Serif',serif;stroke:#000;stroke-width:0.3;font-weight:bold" >1</text>
<text x="282.8" y="683.7" font-size="18" text-anchor="start" style="font-family:'Liberation Serif',serif;stroke:#000;stroke-width:0.3;font-weight:bold" >0</text>
<text x="293.8" y="677.7" font-size="15" text-anchor="start" style="font-family:'Liberation Serif',serif;stroke:#000;stroke-width:0.3;font-weight:bold" >7</text>
<text x="273.2" y="872.7" font-size="18" text-anchor="start" style="font-family:'Liberation Serif',serif;stroke:#000;stroke-width:0.3;font-weight:bold" >1</text>
<text x="282.8" y="872.7" font-size="18" text-anchor="start" style="font-family:'Liberation Serif',serif;stroke:#000;stroke-width:0.3;font-weight:bold" >0</text>
<text x="293.5" y="868.3" font-size="15" text-anchor="start" style="font-family:'Liberation Serif',serif;stroke:#000;stroke-width:0.3;font-weight:bold" >6</text>
<text x="313.75" y="887.5" font-size="17" text-anchor="start" style="font-family:'Liberation Serif',serif;stroke:#000;stroke-width:0.3;font-weight:bold" >0</text>
<text x="371.75" y="887.5" font-size="17" text-anchor="start" style="font-family:'Liberation Serif',serif;stroke:#000;stroke-width:0.3;font-weight:bold" >24</text>
<text x="435" y="887.5" font-size="17" text-anchor="start" style="font-family:'Liberation Serif',serif;stroke:#000;stroke-width:0.3;font-weight:bold" >48</text>
<text x="499.25" y="887.5" font-size="17" text-anchor="start" style="font-family:'Liberation Serif',serif;stroke:#000;stroke-width:0.3;font-weight:bold" >72</text>
<text x="332.4" y="909.5" font-size="20" text-anchor="start" textLength="154" lengthAdjust="spacingAndGlyphs" style="font-family:'Liberation Serif',serif;stroke:#000;stroke-width:0.3;font-weight:bold" >differentiation [h]</text>
<text transform="translate(265,845) rotate(-90) scale(1,1.0)" font-size="15.5" text-anchor="start" textLength="156.2" lengthAdjust="spacingAndGlyphs" style="font-family:'Liberation Serif',serif;font-weight:bold;stroke:#000;stroke-width:0.3">cumulative cell number</text>
</g>
</svg></body></html>
